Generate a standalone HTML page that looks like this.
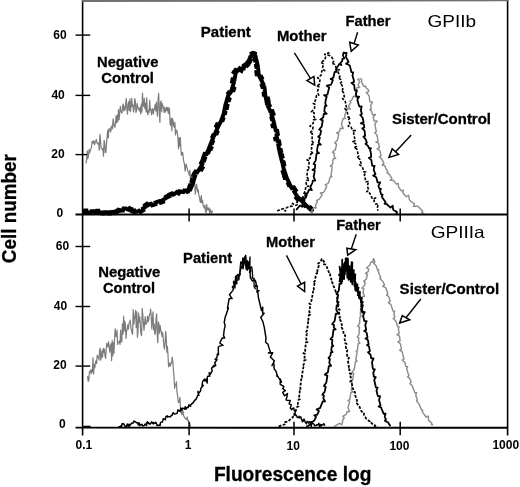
<!DOCTYPE html>
<html><head><meta charset="utf-8"><style>
html,body{margin:0;padding:0;background:#fff;width:520px;height:487px;overflow:hidden}
svg{display:block;filter:blur(0.3px)}
text{font-family:"Liberation Sans",sans-serif;fill:#000}
text.b{stroke:#000;stroke-width:0.3px}
</style></head><body>
<svg width="520" height="487" viewBox="0 0 520 487">
<rect width="520" height="487" fill="#fff"/>
<g id="curves">
<path d="M85.50,162.39 L86.10,162.82 L86.70,159.31 L87.30,150.93 L87.90,158.73 L88.50,155.26 L89.10,149.46 L89.70,152.84 L90.30,150.47 L90.90,149.19 L91.50,147.01 L92.10,141.28 L92.70,141.54 L93.30,143.20 L93.90,140.73 L94.50,144.81 L95.10,142.56 L95.70,141.39 L96.30,139.48 L96.90,142.31 L97.50,143.92 L98.10,142.99 L98.70,143.42 L99.30,150.22 L99.90,134.39 L100.50,139.30 L101.10,148.12 L101.70,148.13 L102.30,149.81 L102.90,148.69 L103.50,156.20 L104.10,140.32 L104.70,142.53 L105.30,152.66 L105.90,152.36 L106.50,143.94 L107.10,137.14 L107.70,130.46 L108.30,138.01 L108.90,128.91 L109.50,128.75 L110.10,130.21 L110.70,131.90 L111.30,126.08 L111.90,128.94 L112.50,128.52 L113.10,118.73 L113.70,122.57 L114.30,126.93 L114.90,127.24 L115.50,123.05 L116.10,115.77 L116.70,122.95 L117.30,115.10 L117.90,121.46 L118.50,109.58 L119.10,119.46 L119.70,113.71 L120.30,106.30 L120.90,110.91 L121.50,112.39 L122.10,113.04 L122.70,105.40 L123.30,104.10 L123.90,110.90 L124.50,106.54 L125.10,110.06 L125.70,103.75 L126.30,98.47 L126.90,108.92 L127.50,114.07 L128.10,104.92 L128.70,101.54 L129.30,110.44 L129.90,98.80 L130.50,111.67 L131.10,104.74 L131.70,98.43 L132.30,106.51 L132.90,104.79 L133.50,111.99 L134.10,108.87 L134.70,98.65 L135.30,100.95 L135.90,112.57 L136.50,111.15 L137.10,103.32 L137.70,106.72 L138.30,109.03 L138.90,108.90 L139.50,110.99 L140.10,107.16 L140.70,114.00 L141.30,104.21 L141.90,111.95 L142.50,93.05 L143.10,105.37 L143.70,106.52 L144.30,98.29 L144.90,108.55 L145.50,103.05 L146.10,111.90 L146.70,97.56 L147.30,111.36 L147.90,114.81 L148.50,110.34 L149.10,112.36 L149.70,100.18 L150.30,110.21 L150.90,108.79 L151.50,114.66 L152.10,110.77 L152.70,108.59 L153.30,114.23 L153.90,109.31 L154.50,108.91 L155.10,104.49 L155.70,110.95 L156.30,102.10 L156.90,111.53 L157.50,116.16 L158.10,98.65 L158.70,93.43 L159.30,111.22 L159.90,122.41 L160.50,102.30 L161.10,101.03 L161.70,111.68 L162.30,103.70 L162.90,105.76 L163.50,106.82 L164.10,112.41 L164.70,107.69 L165.30,112.14 L165.90,110.17 L166.50,107.01 L167.10,110.55 L167.70,107.63 L168.30,113.55 L168.90,107.88 L169.50,108.87 L170.10,124.09 L170.70,125.51 L171.30,118.21 L171.90,130.84 L172.50,118.65 L173.10,120.89 L173.70,125.74 L174.30,127.35 L174.90,122.31 L175.50,134.85 L176.10,130.07 L176.70,130.08 L177.30,132.91 L177.90,137.42 L178.50,148.98 L179.10,137.83 L179.70,146.05 L180.30,137.66 L180.90,149.33 L181.50,155.29 L182.10,152.33 L182.70,152.70 L183.30,158.34 L183.90,162.24 L184.50,164.05 L185.10,171.16 L185.70,165.81 L186.30,164.35 L186.90,167.74 L187.50,169.55 L188.10,171.82 L188.70,172.92 L189.30,175.24 L189.90,170.21 L190.50,179.88 L191.10,176.40 L191.70,175.70 L192.30,182.73 L192.90,186.02 L193.50,184.61 L194.10,184.58 L194.70,182.22 L195.30,194.26 L195.90,189.29 L196.50,184.43 L197.10,187.42 L197.70,191.86 L198.30,189.88 L198.90,196.20 L199.50,196.89 L200.10,201.80 L200.70,202.42 L201.30,195.54 L201.90,202.79 L202.50,200.34 L203.10,205.03 L203.70,206.67 L204.30,208.09 L204.90,205.00 L205.50,211.82 L206.10,212.70 L206.70,204.48 L207.30,209.99 L207.90,208.15 L208.50,210.04 L209.10,207.76 L209.70,213.50 L210.30,209.33 L210.90,211.27 L211.50,213.30 L212.10,211.02 L212.70,212.15" fill="none" stroke="#7c7c7c" stroke-width="1.2" stroke-linejoin="round" />
<path d="M83.00,212.50 L83.50,212.50 L84.00,212.50 L84.50,212.50 L85.00,210.50 L85.50,210.50 L86.00,210.50 L86.50,210.50 L87.00,212.50 L87.50,212.50 L88.00,212.50 L88.50,212.50 L89.00,212.50 L89.50,212.50 L90.00,212.50 L90.50,212.50 L91.00,212.50 L91.50,211.19 L92.00,211.19 L92.50,211.19 L93.00,211.19 L93.50,211.19 L94.00,211.19 L94.50,211.19 L95.00,212.50 L95.50,212.50 L96.00,212.50 L96.50,212.50 L97.00,210.68 L97.50,210.68 L98.00,210.68 L98.50,210.68 L99.00,212.50 L99.50,212.50 L100.00,212.50 L100.50,212.48 L101.00,212.46 L101.50,212.44 L102.07,213.50 L102.57,213.50 L103.07,213.50 L103.57,213.50 L104.07,213.50 L104.50,212.31 L105.00,212.29 L105.50,212.27 L105.99,212.25 L106.49,212.23 L106.99,212.21 L107.49,212.19 L108.08,213.50 L108.58,213.50 L109.08,213.50 L109.58,213.50 L110.08,213.50 L110.58,213.50 L110.99,212.04 L111.49,212.02 L111.99,212.00 L112.49,211.94 L112.98,211.88 L113.48,211.82 L113.97,211.75 L114.65,213.16 L115.15,213.10 L115.65,213.04 L116.52,212.88 L116.35,211.21 L116.74,210.89 L117.12,210.57 L117.50,210.25 L117.89,209.93 L118.27,209.61 L118.66,209.29 L119.05,208.99 L119.87,210.84 L120.36,210.75 L120.85,210.67 L121.35,210.59 L121.84,210.51 L122.17,210.45 L122.51,210.45 L123.01,210.45 L123.51,208.50 L124.01,208.50 L124.51,208.50 L125.01,208.50 L125.51,208.50 L126.01,208.51 L126.46,208.73 L126.91,208.95 L127.35,209.18 L127.80,209.40 L128.25,209.62 L129.53,208.18 L129.97,208.40 L130.41,208.62 L130.77,208.80 L131.16,208.95 L131.63,209.12 L131.44,211.04 L131.91,211.22 L132.38,211.39 L132.85,211.57 L133.31,211.74 L134.08,210.63 L134.23,210.64 L134.58,210.58 L135.26,211.83 L135.75,211.76 L136.25,211.69 L136.74,211.62 L137.24,211.55 L137.72,211.44 L138.15,211.19 L138.59,210.95 L139.03,210.71 L140.34,212.05 L140.78,211.80 L141.22,211.56 L141.65,211.32 L142.09,211.07 L142.53,210.83 L142.97,210.59 L143.40,210.35 L142.96,208.52 L143.38,208.25 L143.80,207.97 L144.21,207.69 L144.63,207.42 L145.04,207.14 L145.46,206.86 L144.90,205.12 L145.32,204.85 L145.74,204.57 L146.15,204.29 L146.57,204.02 L146.98,203.74 L148.37,204.92 L148.79,204.64 L149.23,204.43 L149.71,204.27 L150.19,204.12 L150.66,203.97 L151.14,203.81 L152.16,205.35 L152.63,205.20 L153.11,205.05 L153.58,204.89 L154.06,204.74 L154.54,204.59 L155.01,204.44 L155.49,204.28 L155.42,202.44 L155.90,202.29 L156.38,202.14 L156.85,201.98 L157.33,201.83 L157.80,201.68 L158.28,201.52 L158.75,201.37 L159.23,201.22 L159.71,201.06 L160.75,202.68 L161.23,202.53 L161.71,202.37 L162.18,202.22 L162.66,202.07 L163.15,201.91 L163.03,199.98 L163.45,199.70 L163.87,199.43 L164.29,199.15 L164.70,198.88 L165.12,198.60 L165.54,198.33 L165.96,198.05 L165.71,196.77 L166.20,196.45 L166.74,196.20 L167.19,195.99 L168.15,196.88 L168.61,196.67 L169.06,196.46 L169.52,196.25 L169.30,194.58 L169.75,194.38 L170.21,194.17 L170.66,193.96 L171.12,193.75 L171.57,193.54 L172.03,193.33 L173.15,194.58 L173.60,194.37 L174.06,194.16 L174.50,193.92 L174.89,193.61 L175.28,193.30 L175.67,192.99 L176.07,192.68 L176.46,192.37 L176.85,192.06 L178.59,193.46 L178.98,193.15 L178.94,193.11 L178.42,193.23 L178.53,193.28 L179.46,191.26 L179.95,191.36 L180.43,191.46 L180.92,191.56 L181.41,191.66 L181.90,191.76 L182.39,191.87 L182.88,191.97 L183.37,192.07 L184.18,190.65 L184.45,190.72 L184.63,190.70 L185.04,190.62 L185.53,190.52 L186.02,190.43 L186.51,190.33 L187.30,191.75 L187.79,191.66 L188.28,191.56 L188.77,191.46 L189.26,191.37 L188.33,189.99 L188.22,190.02 L188.41,189.56 L188.60,189.10 L190.42,189.31 L190.61,188.85 L190.80,188.39 L191.00,187.92 L191.19,187.46 L189.51,186.23 L189.70,185.77 L189.90,185.31 L191.95,185.61 L192.14,185.15 L192.33,184.69 L192.52,184.23 L192.71,183.76 L192.86,183.29 L193.00,182.81 L193.15,182.33 L191.59,181.33 L191.74,180.85 L191.89,180.37 L192.03,179.90 L192.18,179.42 L194.03,179.46 L194.18,178.98 L194.32,178.51 L194.47,178.03 L194.62,177.55 L194.76,177.07 L194.91,176.59 L195.06,176.12 L193.36,175.07 L193.57,174.42 L193.93,173.73 L194.26,173.24 L194.54,172.82 L194.81,172.41 L195.09,171.99 L195.37,171.58 L197.25,172.23 L197.53,171.81 L197.80,171.40 L198.08,170.98 L198.36,170.56 L198.63,170.15 L198.91,169.73 L199.19,169.32 L199.46,168.90 L201.57,169.59 L201.83,169.16 L202.09,168.73 L202.35,168.31 L202.61,167.88 L201.02,166.33 L201.28,165.90 L201.54,165.48 L201.79,165.05 L202.05,164.62 L202.31,164.19 L201.11,162.88 L201.37,162.45 L201.63,162.02 L201.83,161.70 L201.96,161.38 L202.13,160.94 L202.31,160.48 L204.08,160.62 L204.26,160.16 L204.44,159.69 L204.62,159.22 L204.80,158.76 L204.98,158.29 L203.33,157.12 L203.51,156.65 L203.69,156.19 L203.87,155.72 L204.05,155.25 L204.23,154.79 L204.40,154.32 L204.58,153.85 L206.60,154.09 L206.78,153.62 L206.96,153.16 L207.13,152.69 L208.35,152.63 L208.53,152.17 L208.71,151.71 L208.90,151.24 L208.05,150.37 L208.24,149.90 L208.43,149.44 L208.61,148.97 L208.80,148.51 L211.01,148.85 L211.19,148.39 L211.38,147.93 L209.54,146.65 L209.73,146.19 L209.91,145.72 L210.10,145.26 L210.28,144.79 L210.47,144.33 L210.65,143.87 L210.84,143.40 L212.10,143.37 L212.28,142.90 L212.46,142.45 L212.65,142.01 L212.85,141.55 L211.99,140.63 L212.19,140.17 L212.39,139.72 L212.59,139.26 L212.79,138.80 L212.99,138.34 L213.19,137.88 L212.37,136.98 L212.57,136.52 L212.77,136.06 L212.96,135.60 L213.16,135.15 L214.38,135.13 L214.58,134.67 L214.78,134.21 L214.97,133.75 L215.17,133.29 L216.83,133.46 L217.02,133.00 L217.22,132.55 L217.42,132.09 L216.17,131.00 L216.37,130.54 L216.57,130.08 L216.78,129.63 L217.00,129.18 L217.22,128.73 L217.44,128.28 L217.66,127.83 L217.88,127.38 L216.21,126.01 L216.43,125.56 L216.65,125.11 L216.87,124.66 L217.09,124.22 L219.20,124.69 L219.42,124.24 L219.64,123.79 L219.86,123.34 L220.08,122.89 L220.29,122.44 L220.51,121.99 L220.73,121.54 L220.95,121.10 L221.14,120.63 L221.32,120.16 L222.74,120.17 L222.92,119.70 L223.09,119.24 L223.27,118.77 L222.21,117.83 L222.38,117.36 L222.56,116.89 L222.74,116.43 L222.92,115.96 L223.10,115.49 L223.27,115.02 L223.45,114.56 L223.63,114.09 L223.76,113.61 L225.13,113.36 L225.23,112.87 L225.32,112.38 L224.14,111.64 L224.23,111.15 L224.33,110.66 L224.42,110.17 L224.52,109.68 L224.61,109.19 L224.71,108.70 L224.80,108.21 L226.95,108.11 L227.05,107.62 L227.14,107.13 L227.24,106.64 L227.33,106.15 L227.43,105.66 L225.47,104.77 L225.59,104.29 L225.74,103.81 L225.89,103.33 L226.03,102.85 L226.18,102.38 L226.32,101.90 L226.47,101.42 L226.61,100.94 L226.76,100.46 L226.90,99.98 L229.13,100.14 L229.28,99.66 L229.42,99.18 L227.49,98.07 L227.63,97.59 L227.78,97.11 L227.92,96.64 L228.07,96.16 L228.22,95.68 L228.43,95.23 L228.73,94.83 L229.03,94.44 L228.23,93.20 L228.53,92.81 L228.83,92.41 L230.24,92.84 L230.54,92.44 L230.84,92.04 L231.12,91.63 L231.27,91.16 L231.41,90.68 L231.56,90.20 L233.60,90.30 L233.75,89.82 L233.89,89.34 L234.04,88.86 L234.18,88.39 L232.43,87.33 L232.58,86.85 L232.72,86.37 L232.87,85.89 L233.01,85.42 L233.16,84.94 L233.30,84.46 L233.45,83.98 L233.59,83.50 L233.74,83.02 L233.89,82.55 L232.05,81.67 L232.15,81.19 L232.24,80.70 L232.34,80.21 L232.43,79.72 L232.53,79.23 L234.56,79.11 L234.65,78.62 L234.75,78.13 L234.84,77.64 L234.94,77.15 L235.03,76.66 L235.13,76.17 L235.22,75.67 L235.32,75.18 L235.41,74.69 L235.51,74.20 L235.60,73.71 L233.72,72.35 L234.27,71.51 L234.59,71.10 L234.90,70.70 L235.21,70.31 L235.51,69.91 L237.53,70.85 L237.84,70.45 L238.14,70.06 L238.45,69.66 L239.67,68.33 L240.22,68.68 L240.63,68.96 L241.05,69.24 L241.46,69.51 L241.56,69.62 L240.09,69.98 L241.42,70.76 L241.58,70.29 L241.75,69.82 L241.91,69.35 L242.07,68.87 L242.24,68.40 L243.74,68.39 L243.90,67.92 L244.07,67.45 L244.23,66.97 L244.26,66.79 L244.29,66.80 L243.81,65.42 L244.22,65.14 L244.63,64.86 L245.05,64.58 L245.46,64.30 L247.24,65.61 L247.76,65.06 L248.11,64.68 L246.88,62.91 L247.22,62.53 L247.55,62.16 L247.89,61.79 L248.22,61.42 L249.90,61.94 L250.24,61.26 L250.45,60.77 L250.64,60.31 L249.35,59.22 L249.55,58.76 L249.74,58.30 L249.94,57.84 L250.13,57.37 L250.33,56.91 L250.54,56.48 L250.98,56.23 L251.42,55.99 L251.86,55.75 L252.29,55.50 L251.68,53.37 L252.98,52.86 L254.42,53.17 L254.94,53.40 L254.54,55.58 L255.00,55.78 L255.46,55.98 L255.60,56.44 L255.71,56.93 L255.82,57.42 L254.48,58.24 L254.59,58.73 L254.70,59.21 L254.81,59.70 L254.92,60.19 L255.03,60.67 L256.60,60.83 L256.72,61.32 L256.83,61.80 L256.94,62.29 L257.05,62.78 L257.16,63.27 L257.27,63.75 L257.38,64.24 L257.50,64.73 L256.03,65.58 L256.14,66.06 L256.25,66.52 L256.32,66.91 L257.97,67.18 L258.02,67.68 L258.08,68.17 L258.13,68.67 L258.18,69.17 L258.23,69.67 L258.28,70.16 L258.34,70.66 L258.39,71.16 L256.37,71.87 L256.42,72.37 L256.47,72.87 L256.53,73.36 L256.58,73.86 L256.63,74.36 L258.75,74.64 L258.82,75.13 L259.04,75.58 L259.27,76.02 L259.50,76.47 L259.72,76.91 L261.31,76.67 L261.54,77.11 L261.77,77.56 L261.99,78.00 L260.86,79.14 L261.08,79.59 L261.31,80.03 L261.54,80.48 L261.76,80.93 L261.98,81.38 L262.19,81.83 L262.41,82.28 L262.63,82.73 L262.84,83.18 L263.06,83.63 L263.28,84.08 L261.77,85.36 L261.99,85.81 L262.21,86.26 L262.39,86.63 L262.45,86.78 L262.47,87.05 L264.42,87.34 L264.48,87.84 L264.53,88.33 L264.59,88.83 L264.64,89.33 L264.69,89.83 L264.75,90.32 L264.80,90.82 L264.86,91.32 L264.91,91.81 L264.96,92.31 L265.02,92.81 L263.70,93.46 L263.75,93.95 L263.80,94.45 L263.86,94.95 L265.29,95.29 L265.38,95.79 L265.47,96.28 L265.57,96.77 L265.66,97.26 L265.76,97.75 L265.86,98.24 L268.06,98.32 L268.15,98.81 L268.25,99.30 L268.35,99.79 L268.44,100.28 L268.54,100.77 L266.53,101.67 L266.62,102.16 L266.72,102.66 L266.82,103.15 L266.91,103.64 L268.82,103.76 L268.85,104.01 L268.98,104.24 L269.21,104.69 L269.43,105.13 L269.65,105.58 L268.23,106.85 L268.45,107.30 L268.67,107.75 L268.90,108.19 L269.12,108.64 L269.34,109.09 L269.57,109.54 L269.79,109.98 L269.99,110.44 L270.16,110.91 L270.33,111.38 L272.45,111.14 L272.62,111.61 L272.79,112.08 L272.96,112.55 L273.13,113.02 L273.30,113.49 L273.48,113.96 L271.70,115.14 L271.87,115.61 L272.04,116.08 L272.22,116.55 L272.39,117.02 L271.44,117.85 L271.56,118.27 L271.68,118.74 L271.80,119.23 L273.06,119.42 L273.18,119.91 L273.30,120.39 L273.43,120.88 L273.55,121.36 L273.67,121.85 L273.79,122.33 L273.92,122.82 L274.04,123.30 L274.16,123.79 L274.28,124.27 L272.50,125.24 L272.62,125.72 L272.74,126.21 L274.77,126.21 L274.89,126.70 L275.02,127.18 L275.14,127.67 L275.26,128.15 L275.38,128.63 L275.48,129.13 L275.56,129.62 L275.65,130.11 L275.74,130.60 L277.20,130.85 L277.29,131.34 L277.38,131.83 L277.47,132.32 L277.56,132.82 L277.65,133.31 L277.73,133.80 L277.82,134.29 L276.54,135.03 L276.62,135.52 L276.71,136.02 L276.80,136.51 L276.89,137.00 L276.98,137.49 L275.18,138.32 L275.26,138.82 L275.35,139.31 L277.33,139.46 L277.42,139.95 L277.51,140.45 L277.60,140.94 L279.07,141.18 L279.16,141.67 L279.25,142.16 L279.34,142.66 L279.43,143.15 L279.51,143.64 L279.60,144.13 L278.30,144.87 L278.39,145.37 L278.48,145.86 L278.57,146.35 L278.65,146.84 L278.74,147.34 L278.83,147.83 L278.92,148.32 L279.01,148.81 L279.10,149.30 L279.18,149.80 L280.86,150.00 L280.95,150.47 L281.04,150.91 L281.15,151.37 L279.70,152.24 L279.82,152.73 L279.94,153.21 L280.06,153.70 L280.18,154.18 L280.30,154.67 L280.42,155.15 L282.11,155.26 L282.23,155.74 L282.35,156.23 L282.47,156.71 L281.01,157.58 L281.13,158.07 L281.25,158.55 L281.37,159.04 L281.48,159.53 L281.60,160.01 L281.72,160.50 L281.84,160.98 L281.96,161.47 L282.08,161.95 L283.57,162.10 L283.69,162.59 L283.80,163.08 L283.92,163.56 L284.04,164.05 L284.16,164.53 L282.91,165.35 L283.03,165.84 L283.15,166.33 L283.26,166.81 L283.38,167.30 L283.50,167.78 L283.62,168.27 L283.74,168.75 L283.88,169.23 L284.04,169.71 L284.20,170.18 L284.36,170.66 L282.78,171.72 L282.93,172.19 L283.09,172.66 L283.25,173.14 L283.41,173.61 L285.32,173.50 L285.47,173.97 L285.63,174.45 L285.79,174.92 L285.95,175.39 L286.11,175.87 L284.30,177.01 L284.46,177.48 L284.62,177.95 L286.75,177.76 L286.91,178.24 L287.10,178.70 L287.32,179.15 L287.54,179.60 L287.76,180.05 L287.98,180.50 L288.20,180.95 L288.42,181.39 L288.64,181.84 L288.86,182.29 L289.07,182.74 L288.15,183.75 L288.37,184.20 L288.59,184.65 L288.81,185.10 L290.17,184.99 L290.39,185.44 L290.61,185.89 L290.83,186.34 L291.05,186.78 L291.27,187.23 L291.49,187.68 L291.77,188.10 L293.84,187.32 L294.12,187.73 L294.40,188.15 L294.67,188.57 L294.95,188.98 L295.23,189.40 L295.51,189.81 L295.78,190.23 L294.26,191.84 L294.54,192.26 L294.82,192.68 L295.09,193.09 L295.37,193.51 L295.65,193.92 L295.93,194.34 L296.20,194.76 L296.48,195.17 L296.76,195.59 L297.04,196.00 L297.31,196.42 L296.19,197.90 L296.63,198.41 L297.04,198.82 L297.39,199.17 L297.75,199.52 L299.34,198.62 L299.70,198.97 L300.05,199.32 L300.41,199.67 L300.76,200.02 L302.02,199.46 L302.38,199.81 L302.73,200.16 L303.09,200.51 L302.54,201.78 L302.90,202.13 L303.25,202.48 L303.61,202.83 L303.97,203.18 L304.32,203.54 L304.68,203.89 L304.14,205.14 L304.51,205.50 L304.87,205.85 L306.11,205.28 L306.47,205.63 L306.83,205.97 L307.20,206.32 L307.56,206.66 L307.92,207.01 L308.28,207.35 L308.64,207.70 L309.00,208.05 L310.31,207.40 L310.67,207.75 L311.04,208.11 L311.40,208.47 L311.76,208.82 L311.14,210.14 L311.50,210.50 L311.85,210.85 L312.21,211.21 L312.56,211.56 L312.91,211.91" fill="none" stroke="#000" stroke-width="4.0" stroke-linejoin="miter" stroke-miterlimit="1.6"/>
<path d="M310.13,211.85 L310.40,211.55 L312.52,212.63 L312.26,211.60 L312.00,210.57 L311.99,209.75 L312.38,209.30 L312.78,208.85 L313.18,208.40 L313.56,207.95 L313.92,207.47 L316.08,208.15 L315.92,207.31 L315.75,206.49 L315.57,205.67 L315.54,204.94 L315.86,204.43 L316.18,203.92 L316.50,203.42 L316.81,202.91 L317.13,202.40 L317.46,201.89 L316.47,200.52 L317.10,200.20 L317.73,199.89 L318.35,199.59 L318.97,199.29 L319.48,198.92 L319.82,198.42 L320.16,197.93 L320.50,197.43 L320.84,196.94 L321.18,196.44 L321.52,195.95 L321.86,195.46 L322.20,194.96 L320.34,193.00 L321.15,192.91 L321.96,192.77 L322.77,192.57 L323.60,192.32 L323.99,191.85 L324.27,191.31 L324.54,190.78 L324.81,190.25 L325.08,189.71 L325.35,189.18 L325.63,188.64 L325.90,188.11 L326.17,187.57 L326.44,187.04 L326.72,186.50 L325.24,185.08 L325.81,184.69 L326.38,184.31 L326.95,183.93 L327.52,183.56 L328.07,183.18 L328.55,182.73 L328.73,182.16 L328.90,181.59 L329.06,181.01 L329.22,180.43 L329.38,179.85 L329.54,179.27 L329.71,178.70 L329.87,178.12 L330.03,177.54 L330.19,176.96 L331.84,176.80 L331.56,176.10 L331.28,175.40 L331.00,174.70 L331.00,174.07 L331.16,173.50 L331.33,172.92 L331.46,172.34 L331.57,171.75 L331.64,171.15 L331.71,170.56 L331.79,169.96 L331.86,169.36 L331.93,168.77 L332.00,168.17 L332.08,167.58 L332.15,166.98 L330.31,166.15 L330.98,165.63 L331.64,165.11 L332.31,164.58 L332.51,164.00 L332.58,163.41 L332.66,162.81 L332.73,162.22 L332.80,161.62 L332.87,161.03 L332.95,160.43 L333.05,159.84 L333.17,159.25 L333.30,158.67 L335.78,158.62 L335.26,157.88 L334.73,157.15 L334.21,156.41 L333.97,155.74 L334.11,155.16 L334.24,154.57 L334.37,153.99 L334.51,153.40 L332.44,152.32 L332.99,151.83 L333.55,151.34 L334.10,150.85 L334.65,150.36 L335.20,149.87 L335.44,149.31 L335.58,148.73 L335.71,148.14 L335.84,147.56 L335.98,146.97 L336.11,146.39 L336.24,145.80 L336.36,145.21 L336.49,144.63 L336.61,144.04 L334.80,143.05 L335.24,142.52 L335.67,142.00 L336.11,141.48 L336.55,140.96 L336.99,140.44 L337.42,139.92 L337.59,139.34 L337.72,138.75 L337.84,138.16 L337.96,137.58 L338.08,136.99 L338.21,136.40 L338.33,135.82 L338.46,135.23 L338.60,134.65 L338.76,134.07 L336.53,132.83 L337.45,132.46 L338.37,132.09 L339.30,131.73 L339.56,131.18 L339.72,130.60 L339.88,130.02 L340.04,129.44 L340.20,128.87 L340.36,128.29 L343.22,128.46 L342.93,127.75 L342.63,127.05 L342.34,126.34 L342.04,125.64 L341.75,124.93 L341.49,124.24 L341.65,123.66 L341.81,123.08 L341.97,122.51 L342.13,121.93 L342.29,121.35 L342.45,120.77 L342.61,120.19 L342.77,119.62 L342.93,119.04 L343.09,118.46 L345.43,118.53 L345.18,117.94 L344.98,117.35 L344.84,116.70 L344.76,116.00 L344.69,115.28 L344.79,114.65 L345.07,114.11 L345.32,113.57 L345.56,113.02 L345.78,112.46 L346.01,111.91 L346.23,111.35 L346.46,110.80 L346.69,110.24 L346.91,109.68 L347.14,109.13 L347.36,108.57 L350.34,109.15 L349.56,108.24 L348.81,107.30 L348.37,106.40 L348.68,105.89 L348.99,105.38 L349.31,104.86 L349.62,104.35 L349.93,103.84 L350.24,103.33 L350.56,102.82 L350.87,102.30 L349.80,101.07 L350.42,100.79 L351.03,100.44 L351.65,100.05 L352.10,99.58 L352.31,99.02 L352.53,98.46 L352.75,97.90 L352.97,97.34 L353.19,96.78 L353.43,96.24 L355.60,96.76 L355.55,96.14 L355.56,95.46 L355.59,94.77 L355.62,94.05 L355.62,93.32 L355.54,92.62 L355.69,92.04 L355.86,91.46 L356.03,90.89 L356.21,90.31 L356.38,89.74 L356.55,89.16 L356.72,88.59 L356.90,88.01 L357.07,87.44 L359.73,87.65 L359.26,86.96 L358.84,86.25 L358.47,85.47 L358.17,84.66 L358.44,84.12 L358.71,83.59 L358.98,83.05 L359.24,82.51 L359.51,81.98 L359.78,81.44 L357.70,79.59 L358.87,78.88 L361.20,78.90 L361.78,80.08 L361.65,80.97 L361.46,81.74 L361.70,82.29 L361.98,82.82 L362.26,83.36 L362.54,83.89 L362.82,84.42 L363.10,84.95 L363.38,85.48 L363.66,86.01 L363.94,86.54 L365.95,86.10 L365.84,86.57 L365.75,86.95 L365.86,87.39 L366.22,87.89 L366.64,88.42 L367.07,88.95 L367.61,89.22 L368.10,89.50 L368.43,89.90 L368.59,90.43 L368.65,91.02 L368.72,91.62 L366.23,92.49 L366.72,93.04 L367.20,93.60 L367.69,94.15 L368.17,94.70 L368.66,95.25 L369.14,95.80 L369.24,96.39 L369.30,96.99 L369.37,97.59 L369.43,98.18 L369.49,98.78 L369.56,99.37 L369.62,99.97 L369.69,100.57 L369.76,101.16 L369.84,101.76 L372.53,101.86 L372.19,102.51 L371.85,103.19 L371.52,103.87 L371.18,104.55 L370.84,105.23 L370.66,105.88 L370.77,106.47 L370.89,107.05 L371.01,107.64 L371.13,108.23 L371.24,108.82 L369.95,109.69 L370.51,110.19 L371.08,110.69 L371.64,111.19 L371.83,111.76 L371.96,112.35 L372.09,112.93 L372.23,113.52 L372.38,114.10 L372.52,114.68 L375.53,114.54 L374.77,115.35 L374.01,116.16 L373.26,116.97 L373.26,117.59 L373.41,118.17 L373.55,118.75 L373.70,119.33 L373.85,119.91 L373.99,120.50 L374.14,121.08 L377.09,120.96 L376.57,121.74 L376.04,122.51 L375.49,123.25 L374.93,123.98 L374.92,124.59 L375.04,125.18 L375.15,125.77 L375.27,126.36 L375.39,126.95 L375.51,127.53 L375.62,128.12 L375.74,128.71 L375.86,129.30 L375.98,129.89 L376.09,130.48 L376.21,131.06 L376.33,131.65 L374.70,132.58 L375.18,133.09 L375.67,133.61 L376.15,134.13 L376.64,134.65 L377.00,135.19 L377.12,135.78 L377.23,136.37 L377.34,136.96 L377.45,137.55 L377.57,138.13 L377.68,138.72 L377.79,139.31 L377.91,139.90 L378.02,140.49 L378.13,141.08 L375.89,142.12 L377.04,142.51 L378.18,142.91 L378.59,143.44 L378.70,144.03 L378.82,144.62 L378.93,145.20 L379.05,145.79 L379.16,146.38 L379.28,146.97 L379.39,147.56 L377.09,148.62 L377.77,149.10 L378.44,149.58 L379.12,150.06 L379.80,150.54 L380.08,151.09 L380.20,151.68 L380.32,152.27 L380.43,152.86 L380.55,153.45 L380.66,154.04 L380.78,154.63 L380.89,155.21 L381.01,155.80 L379.27,156.78 L379.83,157.35 L380.43,157.88 L381.05,158.34 L381.67,158.74 L382.08,159.22 L382.31,159.78 L382.54,160.33 L382.77,160.89 L382.99,161.44 L383.22,162.00 L383.45,162.55 L383.67,163.11 L383.90,163.66 L382.10,165.05 L383.10,165.29 L384.10,165.53 L384.81,165.89 L385.04,166.44 L385.26,167.00 L385.49,167.55 L385.72,168.11 L385.97,168.65 L386.24,169.18 L386.55,169.69 L386.87,170.20 L387.18,170.71 L387.50,171.22 L387.82,171.74 L386.99,172.95 L387.66,173.24 L388.33,173.53 L389.00,173.82 L389.39,174.29 L389.71,174.80 L390.03,175.31 L390.34,175.82 L390.66,176.33 L390.97,176.84 L391.29,177.35 L391.60,177.86 L391.93,178.36 L390.15,180.39 L391.24,180.38 L392.31,180.33 L393.36,180.29 L393.72,180.77 L394.08,181.24 L394.45,181.72 L394.81,182.20 L395.17,182.68 L395.54,183.15 L395.90,183.63 L396.26,184.11 L398.25,183.35 L398.32,184.06 L398.38,184.76 L398.45,185.47 L398.50,186.18 L398.56,186.89 L398.79,187.46 L399.15,187.95 L399.51,188.43 L399.86,188.91 L400.22,189.39 L400.58,189.87 L400.94,190.35 L401.30,190.84 L403.33,190.07 L403.18,190.93 L403.03,191.79 L402.87,192.65 L403.09,193.24 L403.46,193.71 L403.86,194.16 L404.27,194.59 L404.69,195.02 L405.11,195.45 L405.53,195.88 L405.95,196.31 L406.36,196.74 L408.64,195.36 L408.76,196.08 L408.88,196.81 L408.99,197.53 L409.11,198.25 L409.23,198.97 L409.35,199.70 L409.71,200.18 L410.13,200.61 L410.55,201.04 L411.00,201.44 L411.47,201.80 L411.97,202.13 L412.47,202.46 L412.98,202.78 L413.48,203.11 L413.98,203.44 L414.48,203.77 L413.44,206.47 L414.21,206.39 L414.98,206.31 L415.71,206.20 L416.42,206.12 L417.16,206.12 L417.86,206.24 L418.28,206.66 L418.71,207.08 L419.14,207.50 L419.57,207.92 L420.00,208.34 L420.42,208.76 L420.85,209.18 L421.28,209.61 L421.71,210.03 L422.14,210.45 L422.57,210.86 L421.68,212.75 L422.39,212.89 L423.08,213.01 L423.77,213.14 L424.31,213.13" fill="none" stroke="#8a8a8a" stroke-width="1.4" stroke-linejoin="round" />
<path d="M277.19,210.93 L277.56,210.79 L278.12,210.58 L278.69,210.37 L279.25,210.16 L279.81,209.95 L280.37,209.74 L280.93,209.53 L281.49,209.31 L282.06,209.10 L282.62,208.89 L283.18,208.68 L283.74,208.47 L285.35,211.13 L285.61,210.27 L285.91,209.41 L286.26,208.55 L286.63,207.69 L287.17,207.38 L287.75,207.22 L288.32,207.05 L288.90,206.89 L289.48,206.72 L290.05,206.56 L290.63,206.39 L291.21,206.23 L291.79,206.07 L292.37,205.93 L292.45,203.35 L293.20,203.97 L293.94,204.59 L294.67,205.21 L295.31,205.34 L295.90,205.22 L296.48,205.09 L297.02,204.87 L297.52,204.57 L297.98,204.18 L296.82,201.85 L297.55,201.80 L298.25,201.78 L298.88,201.77 L299.51,201.67 L300.17,201.46 L300.81,201.15 L301.12,200.64 L301.40,200.11 L301.66,199.57 L301.89,199.02 L302.12,198.46 L302.34,197.91 L302.56,197.35 L302.78,196.79 L305.76,197.34 L305.33,196.51 L304.89,195.68 L304.45,194.86 L304.01,194.05 L304.09,193.44 L304.31,192.88 L304.52,192.32 L304.73,191.76 L304.95,191.19 L305.16,190.63 L305.33,190.06 L305.45,189.48 L305.52,188.88 L305.59,188.29 L305.65,187.69 L305.72,187.10 L305.79,186.50 L308.68,186.21 L307.92,185.53 L307.16,184.84 L306.40,184.15 L306.11,183.52 L306.18,182.92 L306.24,182.32 L306.31,181.73 L306.38,181.13 L306.44,180.53 L309.34,180.23 L308.83,179.57 L308.31,178.91 L307.80,178.26 L307.29,177.60 L306.80,176.95 L306.86,176.36 L306.92,175.76 L306.98,175.16 L307.04,174.57 L307.10,173.97 L307.16,173.37 L307.22,172.77 L307.28,172.18 L307.34,171.58 L307.40,170.98 L307.47,170.39 L307.56,169.80 L309.49,169.58 L309.26,168.94 L309.03,168.28 L308.80,167.61 L308.58,166.95 L308.35,166.28 L308.45,165.69 L308.58,165.10 L308.71,164.52 L308.83,163.93 L308.96,163.35 L309.09,162.76 L309.22,162.18 L309.35,161.59 L309.48,161.00 L306.92,159.85 L307.75,159.44 L308.57,159.00 L309.39,158.55 L310.05,158.06 L310.16,157.47 L310.26,156.88 L310.37,156.29 L310.47,155.70 L310.58,155.11 L310.69,154.52 L310.79,153.92 L313.22,153.75 L312.58,153.03 L311.95,152.30 L311.31,151.58 L311.33,150.97 L311.42,150.38 L311.50,149.79 L311.54,149.19 L311.58,148.59 L311.61,147.99 L311.64,147.39 L311.67,146.79 L311.70,146.19 L311.73,145.59 L311.77,144.99 L311.80,144.40 L313.96,143.91 L313.56,143.29 L313.15,142.67 L312.75,142.04 L312.34,141.42 L311.99,140.80 L312.02,140.20 L312.05,139.60 L312.09,139.00 L312.12,138.40 L312.15,137.81 L312.18,137.21 L312.21,136.61 L312.25,136.01 L312.28,135.41 L312.32,134.81 L312.36,134.21 L312.41,133.61 L309.85,132.81 L310.52,132.26 L311.20,131.71 L311.87,131.16 L312.54,130.61 L312.70,130.02 L312.75,129.43 L312.79,128.83 L312.84,128.23 L312.89,127.63 L312.94,127.03 L309.99,126.20 L310.60,125.64 L311.20,125.09 L311.81,124.54 L312.41,123.98 L313.02,123.43 L313.27,122.85 L313.32,122.25 L313.37,121.65 L313.42,121.05 L313.46,120.46 L313.51,119.86 L315.85,119.45 L315.37,118.81 L314.90,118.17 L314.43,117.53 L313.96,116.88 L313.81,116.27 L313.86,115.67 L313.91,115.07 L313.96,114.48 L314.01,113.88 L314.06,113.28 L314.11,112.68 L311.35,111.85 L311.89,111.29 L312.43,110.74 L312.97,110.18 L313.51,109.62 L314.05,109.06 L314.46,108.50 L314.52,107.90 L314.59,107.30 L314.66,106.71 L314.74,106.11 L314.81,105.52 L314.88,104.92 L314.96,104.33 L313.30,103.52 L313.69,102.96 L314.08,102.40 L314.47,101.85 L314.86,101.29 L315.25,100.73 L315.49,100.16 L315.60,99.57 L315.73,98.99 L315.87,98.40 L316.01,97.82 L316.14,97.23 L316.28,96.65 L316.41,96.07 L316.55,95.48 L318.79,95.38 L318.57,94.72 L318.34,94.06 L318.12,93.41 L317.92,92.74 L317.72,92.07 L317.57,91.41 L317.73,90.83 L317.89,90.25 L318.05,89.67 L318.21,89.10 L318.37,88.52 L318.53,87.94 L318.69,87.36 L318.85,86.78 L316.54,85.63 L317.48,85.31 L318.40,84.90 L319.30,84.43 L319.38,83.84 L319.46,83.24 L319.55,82.65 L319.63,82.05 L319.71,81.46 L319.81,80.87 L319.92,80.28 L320.05,79.69 L320.18,79.11 L317.58,77.90 L318.20,77.43 L318.82,76.95 L319.43,76.48 L320.05,76.00 L320.67,75.53 L321.10,75.01 L321.22,74.42 L321.32,73.83 L321.41,73.24 L321.51,72.64 L321.60,72.05 L321.69,71.46 L321.79,70.87 L324.84,70.78 L324.13,70.13 L323.46,69.44 L322.83,68.68 L322.45,67.95 L322.62,67.37 L322.79,66.80 L322.96,66.22 L323.13,65.65 L323.30,65.07 L323.48,64.50 L323.66,63.93 L320.75,62.38 L321.44,61.97 L322.12,61.56 L322.81,61.14 L323.49,60.74 L324.16,60.33 L324.83,59.89 L325.04,59.33 L325.18,58.75 L325.32,58.16 L325.46,57.58 L325.61,57.00 L325.79,56.43 L326.03,55.89 L324.62,54.30 L325.87,54.36 L327.00,54.38 L327.33,53.88 L327.66,53.38 L327.99,52.89 L328.32,52.74 L328.67,52.91 L329.02,53.40 L327.92,54.92 L328.60,55.18 L329.27,55.44 L329.94,55.69 L330.61,55.95 L331.11,56.33 L331.46,56.82 L331.81,57.31 L332.13,57.81 L332.41,58.33 L332.65,58.88 L332.87,59.44 L333.09,60.00 L333.31,60.56 L333.52,61.12 L333.74,61.68 L331.66,63.14 L332.46,63.47 L333.25,63.80 L334.04,64.14 L334.84,64.47 L335.06,65.03 L335.28,65.59 L335.50,66.14 L335.73,66.70 L335.96,67.25 L336.20,67.80 L336.44,68.35 L336.67,68.90 L336.91,69.46 L337.15,70.01 L339.36,69.71 L339.02,70.51 L338.68,71.31 L338.34,72.11 L338.33,72.76 L338.57,73.31 L338.81,73.86 L339.05,74.41 L339.28,74.97 L339.52,75.52 L339.76,76.07 L340.00,76.62 L338.15,78.03 L338.82,78.30 L339.46,78.62 L340.09,79.03 L340.71,79.50 L341.01,80.05 L341.13,80.64 L341.25,81.23 L341.36,81.82 L341.48,82.41 L339.87,83.34 L340.51,83.82 L341.15,84.31 L341.78,84.79 L342.07,85.35 L342.19,85.94 L342.30,86.52 L342.41,87.11 L342.53,87.70 L342.64,88.29 L342.76,88.88 L342.87,89.47 L341.32,90.38 L341.85,90.89 L342.38,91.40 L342.90,91.91 L343.43,92.42 L343.55,93.01 L343.66,93.59 L343.78,94.18 L343.90,94.77 L344.02,95.36 L344.14,95.95 L344.26,96.54 L344.38,97.12 L344.50,97.71 L342.49,98.73 L343.19,99.20 L343.89,99.67 L344.59,100.14 L345.10,100.65 L345.22,101.24 L345.34,101.83 L345.46,102.41 L345.58,103.00 L345.69,103.59 L345.81,104.18 L345.92,104.77 L346.04,105.36 L346.15,105.95 L346.27,106.53 L346.38,107.12 L346.50,107.71 L344.99,108.62 L345.47,109.14 L345.95,109.65 L346.44,110.17 L346.92,110.69 L347.18,111.25 L347.28,111.84 L347.38,112.43 L347.48,113.02 L347.58,113.61 L347.68,114.20 L347.79,114.80 L347.89,115.39 L347.99,115.98 L348.09,116.57 L348.19,117.16 L350.62,117.35 L349.96,118.08 L349.29,118.80 L348.63,119.52 L348.70,120.12 L348.83,120.70 L349.00,121.28 L349.20,121.84 L349.40,122.41 L349.59,122.97 L349.79,123.54 L349.99,124.11 L350.19,124.67 L348.08,126.05 L348.96,126.38 L349.85,126.72 L350.75,127.04 L351.25,127.47 L351.53,128.01 L351.81,128.54 L352.09,129.07 L352.37,129.60 L352.65,130.13 L352.89,130.67 L355.24,130.60 L354.78,131.45 L354.29,132.19 L353.79,132.92 L353.62,133.57 L353.75,134.16 L353.88,134.74 L354.02,135.33 L354.15,135.92 L354.28,136.50 L354.41,137.09 L354.54,137.67 L354.67,138.26 L354.80,138.84 L354.94,139.43 L355.07,140.01 L355.20,140.60 L352.80,141.74 L353.44,142.20 L354.08,142.67 L354.72,143.15 L355.35,143.63 L355.95,144.12 L356.07,144.71 L356.19,145.29 L356.31,145.88 L356.44,146.47 L354.07,147.58 L354.87,148.02 L355.67,148.47 L356.47,148.91 L357.05,149.41 L357.17,149.99 L357.29,150.58 L357.42,151.17 L357.54,151.76 L357.66,152.34 L357.78,152.93 L357.91,153.52 L358.03,154.11 L358.15,154.69 L358.30,155.27 L358.46,155.85 L358.66,156.42 L356.89,157.67 L357.71,158.02 L358.52,158.37 L359.34,158.72 L359.65,159.25 L359.85,159.81 L360.05,160.38 L360.25,160.95 L360.44,161.51 L360.64,162.08 L360.84,162.64 L361.04,163.21 L359.13,164.52 L359.78,164.92 L360.43,165.33 L361.09,165.74 L361.74,166.14 L362.23,166.61 L362.43,167.17 L362.63,167.74 L362.82,168.31 L363.00,168.88 L363.15,169.46 L363.28,170.05 L363.41,170.63 L363.54,171.22 L363.67,171.80 L365.79,171.95 L365.44,172.64 L365.09,173.33 L364.74,174.02 L364.39,174.72 L364.45,175.32 L364.58,175.90 L364.71,176.49 L364.84,177.07 L364.97,177.66 L365.10,178.25 L365.23,178.83 L365.36,179.42 L365.49,180.00 L365.62,180.59 L365.75,181.17 L365.88,181.76 L368.85,181.52 L368.55,182.13 L368.28,182.81 L368.04,183.54 L367.79,184.26 L367.54,184.99 L367.29,185.71 L367.42,186.30 L367.62,186.87 L367.82,187.43 L368.03,188.00 L368.23,188.56 L368.43,189.13 L368.63,189.69 L368.83,190.26 L366.69,191.66 L367.44,192.03 L368.19,192.40 L368.95,192.76 L369.70,193.13 L370.04,193.65 L370.24,194.22 L370.44,194.78 L370.65,195.34 L370.89,195.89 L371.17,196.42 L371.47,196.93 L371.78,197.45 L372.09,197.97 L372.39,198.48 L372.70,199.00 L375.67,197.93 L374.98,199.04 L374.29,200.15 L373.92,201.06 L374.23,201.58 L374.54,202.09 L374.84,202.61 L375.15,203.13 L375.46,203.64 L375.76,204.16 L377.81,203.70 L377.86,204.49 L377.84,205.30 L377.74,206.04 L377.59,206.72 L377.43,207.38 L377.28,208.04 L377.37,208.64 L377.52,209.22 L377.68,209.80 L377.83,210.38 L377.94,210.77" fill="none" stroke="#000" stroke-width="1.6" stroke-linejoin="round" stroke-dasharray="2.8 1.5"/>
<path d="M296.13,209.85 L296.40,209.55 L296.80,209.11 L297.20,208.66 L297.61,208.22 L298.01,207.77 L298.41,207.32 L298.81,206.88 L299.21,206.43 L299.61,205.99 L300.01,205.54 L302.24,206.74 L302.32,206.00 L302.39,205.26 L302.47,204.51 L302.55,203.76 L302.60,203.00 L302.74,202.36 L303.08,201.86 L303.42,201.37 L303.77,200.87 L304.11,200.38 L304.45,199.89 L303.26,198.36 L304.05,198.23 L304.82,198.07 L305.59,197.80 L305.89,197.28 L306.12,196.72 L306.34,196.16 L306.56,195.61 L306.79,195.05 L304.42,193.45 L305.81,193.36 L307.20,193.27 L307.68,192.82 L307.91,192.27 L308.13,191.71 L308.36,191.16 L308.60,190.61 L308.86,190.07 L309.12,189.53 L311.83,190.18 L311.39,189.30 L310.95,188.42 L310.52,187.54 L310.43,186.83 L310.70,186.29 L310.96,185.75 L311.22,185.21 L311.49,184.67 L311.75,184.13 L312.01,183.59 L312.23,183.04 L312.41,182.47 L312.53,181.88 L312.66,181.30 L312.78,180.71 L315.21,180.60 L314.95,179.94 L314.68,179.27 L314.42,178.60 L314.16,177.93 L313.90,177.26 L313.64,176.60 L313.76,176.01 L313.88,175.42 L314.01,174.84 L314.13,174.25 L314.25,173.66 L314.38,173.07 L314.49,172.49 L314.59,171.89 L314.66,171.30 L314.71,170.70 L312.48,169.91 L313.49,169.39 L314.50,168.88 L314.92,168.31 L314.97,167.71 L315.02,167.11 L315.07,166.52 L315.12,165.92 L315.17,165.32 L315.22,164.72 L313.58,163.98 L313.92,163.41 L314.26,162.83 L314.61,162.26 L314.96,161.68 L315.32,161.11 L315.64,160.54 L315.72,159.95 L315.80,159.36 L315.89,158.76 L315.97,158.17 L316.06,157.57 L316.14,156.98 L316.23,156.39 L316.31,155.79 L316.39,155.20 L316.48,154.60 L316.56,154.01 L316.65,153.42 L319.05,153.15 L318.21,152.43 L317.37,151.70 L316.98,151.04 L317.07,150.45 L317.15,149.85 L317.24,149.26 L317.32,148.66 L317.41,148.07 L317.49,147.48 L317.57,146.88 L317.67,146.29 L317.79,145.70 L317.93,145.12 L318.07,144.54 L320.79,144.61 L319.85,143.75 L318.91,142.89 L318.67,142.21 L318.82,141.63 L318.97,141.05 L319.11,140.47 L319.26,139.89 L319.41,139.31 L319.56,138.72 L319.71,138.14 L319.86,137.56 L318.19,136.60 L318.76,136.15 L319.32,135.65 L319.89,135.14 L320.39,134.61 L320.49,134.02 L320.59,133.43 L320.68,132.84 L320.78,132.24 L320.88,131.65 L320.98,131.06 L321.07,130.47 L319.12,129.54 L319.60,129.01 L320.07,128.48 L320.54,127.95 L321.02,127.42 L321.49,126.89 L321.75,126.32 L321.85,125.73 L321.95,125.14 L322.05,124.55 L322.14,123.95 L322.24,123.36 L322.34,122.77 L322.43,122.18 L322.53,121.59 L322.63,120.99 L322.73,120.40 L320.32,119.40 L321.11,118.92 L321.90,118.44 L322.68,117.96 L323.21,117.44 L323.31,116.85 L323.41,116.26 L323.50,115.67 L323.60,115.07 L323.70,114.48 L323.80,113.89 L326.59,113.74 L325.90,113.02 L325.21,112.30 L324.52,111.58 L324.28,110.93 L324.38,110.34 L324.48,109.75 L324.57,109.15 L324.65,108.56 L324.73,107.96 L324.80,107.37 L324.88,106.77 L324.95,106.18 L326.56,105.77 L326.14,105.12 L325.72,104.46 L325.31,103.80 L325.32,103.20 L325.39,102.60 L325.46,102.01 L325.54,101.41 L325.61,100.82 L325.69,100.22 L325.78,99.63 L325.92,99.05 L326.10,98.48 L326.31,97.92 L326.51,97.36 L326.72,96.79 L324.08,95.20 L325.30,95.05 L326.51,94.86 L327.46,94.51 L327.60,93.93 L327.74,93.35 L327.88,92.76 L328.02,92.18 L328.16,91.60 L328.30,91.01 L328.46,90.43 L328.61,89.85 L328.77,89.28 L328.93,88.70 L329.09,88.12 L329.25,87.54 L326.70,85.73 L327.80,85.33 L328.84,85.17 L329.83,85.09 L330.72,84.95 L331.05,84.45 L331.34,83.93 L331.60,83.39 L331.82,82.83 L332.04,82.27 L332.25,81.71 L332.47,81.15 L332.69,80.59 L332.89,80.03 L330.60,78.84 L331.54,78.53 L332.48,78.12 L333.41,77.69 L333.52,77.10 L333.63,76.51 L333.75,75.92 L333.86,75.33 L333.98,74.75 L334.11,74.16 L334.25,73.58 L334.39,72.99 L334.53,72.41 L334.68,71.83 L336.67,71.78 L336.36,71.24 L336.13,70.64 L336.03,69.95 L335.98,69.19 L336.28,68.67 L336.62,68.18 L336.96,67.68 L337.29,67.18 L337.60,66.67 L337.90,66.15 L338.21,65.63 L338.52,65.12 L338.82,64.60 L339.13,64.09 L341.32,65.03 L340.82,64.12 L340.55,63.07 L340.78,62.40 L341.25,62.03 L341.73,61.66 L342.06,61.22 L342.26,60.70 L342.31,60.10 L342.37,59.50 L342.43,58.91 L344.34,58.49 L344.05,57.86 L343.76,57.23 L343.47,56.63 L343.22,56.02 L343.01,55.38 L343.04,54.77 L343.20,54.19 L343.36,53.61 L343.52,53.03 L343.68,52.53 L343.87,52.41 L344.09,52.67 L344.34,53.22 L346.59,52.88 L346.46,53.59 L346.33,54.31 L346.21,55.02 L346.08,55.73 L345.95,56.44 L346.04,57.05 L346.31,57.59 L346.60,58.12 L346.88,58.65 L347.16,59.18 L347.44,59.71 L347.73,60.24 L348.01,60.77 L348.29,61.30 L348.57,61.83 L346.03,63.75 L346.67,63.88 L347.30,64.08 L347.94,64.43 L348.59,64.87 L349.25,65.33 L349.89,65.78 L350.03,66.37 L350.18,66.95 L350.32,67.53 L350.46,68.11 L350.61,68.70 L350.75,69.28 L350.90,69.86 L351.04,70.44 L351.19,71.03 L351.33,71.61 L351.48,72.19 L353.21,72.32 L353.05,72.97 L352.90,73.64 L352.75,74.31 L352.61,74.98 L352.50,75.64 L352.67,76.22 L352.84,76.79 L353.01,77.37 L353.19,77.94 L353.36,78.52 L353.53,79.09 L353.68,79.67 L353.80,80.26 L353.87,80.85 L353.93,81.45 L353.98,82.04 L351.44,82.87 L352.12,83.41 L352.80,83.95 L353.49,84.50 L354.17,85.04 L354.29,85.63 L354.34,86.23 L354.39,86.83 L354.45,87.42 L354.50,88.02 L354.55,88.62 L354.64,89.21 L354.75,89.80 L354.90,90.38 L356.92,90.48 L356.74,91.14 L356.56,91.81 L356.37,92.48 L356.19,93.15 L356.00,93.81 L355.95,94.45 L356.10,95.03 L356.25,95.61 L356.40,96.19 L356.55,96.77 L359.14,96.72 L358.66,97.46 L358.18,98.20 L357.70,98.95 L357.32,99.67 L357.48,100.25 L357.63,100.83 L357.79,101.41 L357.95,101.99 L358.11,102.56 L358.27,103.14 L358.43,103.72 L358.61,104.29 L358.81,104.86 L359.01,105.42 L359.22,105.99 L359.42,106.55 L361.63,106.39 L361.50,107.08 L361.37,107.76 L361.24,108.45 L361.11,109.13 L360.98,109.82 L360.85,110.50 L361.05,111.06 L361.26,111.63 L361.44,112.20 L361.60,112.78 L361.73,113.36 L361.85,113.95 L360.20,114.92 L360.65,115.44 L361.10,115.95 L361.55,116.47 L362.00,116.99 L362.45,117.50 L362.74,118.06 L362.86,118.64 L362.99,119.23 L363.12,119.81 L363.24,120.40 L363.37,120.99 L363.49,121.57 L363.62,122.16 L360.77,123.27 L361.96,123.60 L363.14,124.02 L363.96,124.53 L364.02,125.13 L364.08,125.73 L364.14,126.32 L364.20,126.92 L364.27,127.52 L362.27,128.33 L362.79,128.88 L363.30,129.43 L363.82,129.98 L364.33,130.53 L364.64,131.10 L364.70,131.70 L364.76,132.29 L364.82,132.89 L364.88,133.49 L364.94,134.08 L365.01,134.68 L365.07,135.28 L365.13,135.87 L363.46,136.65 L363.91,137.21 L364.37,137.78 L364.85,138.36 L365.37,138.88 L365.71,139.41 L365.91,139.97 L366.11,140.54 L366.30,141.11 L366.50,141.67 L366.70,142.24 L366.89,142.81 L365.48,143.93 L366.07,144.36 L366.66,144.80 L367.24,145.23 L367.84,145.66 L368.11,146.20 L368.35,146.74 L368.60,147.29 L368.86,147.83 L369.11,148.38 L370.90,148.20 L370.53,149.04 L370.16,149.87 L370.12,150.55 L370.38,151.09 L370.61,151.64 L370.77,152.21 L370.86,152.80 L370.91,153.40 L370.96,153.99 L371.01,154.59 L371.06,155.19 L371.10,155.79 L371.15,156.39 L371.20,156.98 L368.85,157.77 L369.45,158.33 L370.04,158.88 L370.64,159.44 L371.23,159.99 L371.49,160.57 L371.53,161.17 L371.59,161.77 L371.67,162.36 L371.77,162.95 L371.88,163.54 L371.98,164.13 L372.09,164.72 L372.20,165.32 L372.30,165.91 L374.61,166.00 L374.36,166.53 L374.17,167.11 L374.03,167.77 L373.91,168.46 L373.79,169.16 L373.67,169.86 L373.89,170.42 L374.12,170.97 L374.35,171.53 L374.57,172.08 L374.80,172.64 L375.03,173.19 L375.25,173.75 L375.47,174.31 L373.21,175.63 L373.92,175.96 L374.63,176.37 L375.36,176.81 L376.08,177.24 L376.41,177.78 L376.56,178.36 L376.70,178.94 L376.85,179.52 L377.00,180.11 L377.15,180.69 L377.30,181.27 L377.44,181.85 L377.59,182.43 L380.27,182.37 L379.90,183.08 L379.53,183.80 L379.16,184.51 L378.78,185.22 L378.49,185.92 L378.66,186.49 L378.85,187.06 L379.03,187.63 L379.22,188.20 L379.40,188.77 L381.04,188.87 L380.60,189.65 L380.16,190.42 L380.14,191.06 L380.33,191.63 L380.51,192.20 L380.70,192.77 L380.88,193.34 L381.07,193.91 L381.25,194.48 L382.69,194.65 L382.14,195.45 L381.81,196.19 L382.00,196.76 L382.20,197.32 L382.47,197.85 L382.79,198.36 L383.14,198.84 L383.50,199.32 L383.86,199.80 L384.21,200.28 L384.57,200.77 L384.93,201.25 L385.28,201.73 L385.64,202.21 L384.56,203.76 L385.39,203.90 L386.21,204.03 L387.04,204.16 L387.43,204.62 L387.80,205.09 L388.20,205.53 L388.64,205.93 L389.11,206.32 L389.57,206.70 L390.03,207.08 L390.49,207.46 L392.72,205.71 L392.82,206.54 L392.92,207.36 L393.02,208.18 L393.12,209.00 L393.27,209.76 L393.75,210.11 L394.25,210.43 L394.78,210.71 L395.31,210.99 L395.85,211.27 L396.38,211.54 L396.91,211.82 L396.39,213.50 L397.12,213.50 L397.66,213.50" fill="none" stroke="#000" stroke-width="1.8" stroke-linejoin="round" />
<path d="M87.60,375.86 L88.20,381.49 L88.80,380.31 L89.40,371.55 L90.00,371.97 L90.60,370.01 L91.20,373.91 L91.80,369.47 L92.40,372.08 L93.00,357.66 L93.60,373.91 L94.20,364.64 L94.80,367.81 L95.40,362.78 L96.00,360.61 L96.60,363.76 L97.20,355.16 L97.80,357.71 L98.40,356.70 L99.00,360.01 L99.60,350.20 L100.20,348.23 L100.80,360.13 L101.40,355.92 L102.00,350.86 L102.60,357.25 L103.20,348.35 L103.80,352.29 L104.40,349.18 L105.00,356.07 L105.60,358.42 L106.20,349.11 L106.80,343.15 L107.40,346.76 L108.00,346.51 L108.60,341.72 L109.20,348.00 L109.80,352.17 L110.40,346.16 L111.00,343.52 L111.60,360.69 L112.20,340.47 L112.80,355.79 L113.40,342.59 L114.00,353.16 L114.60,338.08 L115.20,328.73 L115.80,336.31 L116.40,336.74 L117.00,330.04 L117.60,344.50 L118.20,342.21 L118.80,342.23 L119.40,341.14 L120.00,344.36 L120.60,330.19 L121.20,341.93 L121.80,341.70 L122.40,323.97 L123.00,334.20 L123.60,316.15 L124.20,331.11 L124.80,321.21 L125.40,324.29 L126.00,338.46 L126.60,330.74 L127.20,329.26 L127.80,324.96 L128.40,329.20 L129.00,323.04 L129.60,322.62 L130.20,319.97 L130.80,326.69 L131.40,330.71 L132.00,332.78 L132.60,334.30 L133.20,309.69 L133.80,324.16 L134.40,319.24 L135.00,315.13 L135.60,310.46 L136.20,327.36 L136.80,311.93 L137.40,337.36 L138.00,331.52 L138.60,313.12 L139.20,322.51 L139.80,316.73 L140.40,327.30 L141.00,333.93 L141.60,335.63 L142.20,308.43 L142.80,314.70 L143.40,323.41 L144.00,330.27 L144.60,323.42 L145.20,316.58 L145.80,324.52 L146.40,323.40 L147.00,321.68 L147.60,316.19 L148.20,321.79 L148.80,319.35 L149.40,314.68 L150.00,314.73 L150.60,309.01 L151.20,315.97 L151.80,328.84 L152.40,320.66 L153.00,311.86 L153.60,329.97 L154.20,324.15 L154.80,334.32 L155.40,332.96 L156.00,319.03 L156.60,313.78 L157.20,333.34 L157.80,342.70 L158.40,321.82 L159.00,324.24 L159.60,333.51 L160.20,325.65 L160.80,330.53 L161.40,331.52 L162.00,336.39 L162.60,332.64 L163.20,338.28 L163.80,345.20 L164.40,349.08 L165.00,344.52 L165.60,331.37 L166.20,337.00 L166.80,352.10 L167.40,346.35 L168.00,355.22 L168.60,366.88 L169.20,363.64 L169.80,363.02 L170.40,366.26 L171.00,362.89 L171.60,362.86 L172.20,357.10 L172.80,361.52 L173.40,369.90 L174.00,375.63 L174.60,388.33 L175.20,385.00 L175.80,385.32 L176.40,381.86 L177.00,392.03 L177.60,395.92 L178.20,401.68 L178.80,402.60 L179.40,401.24 L180.00,397.39 L180.60,412.44 L181.20,410.31 L181.80,414.73 L182.40,412.43 L183.00,411.12 L183.60,415.60 L184.20,416.75 L184.80,417.87 L185.40,418.73 L186.00,418.87 L186.60,419.71 L187.20,416.91 L187.80,420.75 L188.40,420.36 L189.00,423.18 L189.60,422.66 L190.20,425.61 L190.80,426.61" fill="none" stroke="#7c7c7c" stroke-width="1.2" stroke-linejoin="round" />
<path d="M118.55,426.29 L119.34,426.80 L120.17,426.32 L120.74,425.91 L121.39,426.73 L122.20,423.55 L122.94,424.12 L123.50,423.65 L124.61,425.33 L125.32,426.80 L125.35,426.13 L126.39,426.80 L127.20,423.92 L127.71,425.71 L128.98,424.07 L129.00,426.54 L130.30,425.09 L130.45,424.68 L131.64,423.14 L131.66,423.47 L133.00,423.11 L133.69,421.59 L134.11,421.01 L134.64,421.75 L135.40,421.65 L135.86,422.10 L136.70,422.88 L137.61,422.83 L138.32,424.92 L138.98,422.68 L139.96,425.68 L140.20,424.42 L141.30,424.84 L142.05,424.29 L142.46,425.95 L142.86,425.75 L144.34,425.58 L144.91,424.13 L145.28,424.17 L146.58,425.42 L146.44,423.22 L147.43,421.75 L148.19,423.70 L148.73,422.79 L149.66,423.86 L149.97,424.16 L150.81,423.33 L151.60,421.83 L152.63,423.23 L153.19,423.88 L153.38,422.51 L154.47,423.07 L155.01,423.44 L155.70,422.22 L156.94,424.63 L156.99,425.51 L157.65,425.36 L158.80,425.61 L158.94,424.94 L160.11,425.61 L160.40,422.73 L161.95,421.93 L162.38,422.02 L163.11,419.86 L163.08,418.65 L164.06,418.89 L165.27,419.78 L165.39,419.39 L165.89,416.68 L167.36,415.80 L167.47,417.05 L168.49,416.72 L168.79,416.40 L169.43,416.72 L170.49,416.86 L171.34,415.29 L172.14,415.24 L172.90,412.98 L173.31,412.62 L174.11,413.91 L174.59,414.11 L175.62,413.91 L176.01,413.49 L176.54,413.43 L177.26,413.19 L177.82,409.86 L179.05,410.47 L179.23,411.27 L180.25,410.91 L180.82,408.08 L182.02,410.52 L182.23,408.24 L183.01,408.21 L183.77,408.70 L184.46,409.15 L185.22,406.68 L185.90,409.28 L186.63,408.21 L187.22,407.21 L188.22,407.62 L188.75,404.95 L189.96,406.08 L190.68,406.43 L190.07,404.88 L191.70,404.42 L191.68,403.62 L193.31,402.84 L192.84,402.98 L194.45,400.76 L195.66,399.30 L195.88,399.07 L195.89,399.82 L197.73,395.49 L198.92,395.39 L197.92,391.34 L198.20,394.11 L199.62,391.95 L200.34,391.60 L200.98,388.19 L203.33,385.31 L201.93,386.78 L202.09,385.19 L202.70,381.26 L204.76,378.95 L205.10,381.18 L206.18,379.36 L207.23,383.07 L207.29,376.98 L207.66,376.29 L209.71,376.16 L209.16,372.72 L209.89,373.19 L209.32,375.76 L212.21,370.92 L211.53,368.30 L214.12,365.31 L213.64,366.90 L215.81,365.28 L214.69,362.78 L217.03,359.79 L215.12,359.37 L216.86,357.77 L217.44,353.91 L218.45,354.76 L218.25,347.29 L219.29,346.15 L222.98,345.40 L219.76,343.03 L222.28,337.94 L224.78,338.05 L223.54,335.58 L224.16,330.09 L225.20,325.43 L224.19,322.58 L225.18,317.24 L228.09,309.04 L228.33,307.83 L227.41,308.26 L229.22,298.48 L232.14,298.62 L229.40,294.70 L232.72,290.59 L234.03,287.55 L232.98,288.04 L232.29,286.93 L234.10,285.22 L235.91,278.57 L236.17,280.13 L237.61,280.23 L237.01,280.01 L235.63,277.23 L236.44,275.71 L240.13,274.50 L239.89,272.42 L241.50,266.43 L242.05,267.84 L242.28,264.38 L242.87,258.01 L244.09,258.71 L243.05,268.67 L244.66,257.62 L245.73,255.35 L246.14,261.45 L246.58,268.52 L247.45,263.70 L248.10,264.93 L249.22,262.76 L248.37,264.38 L250.95,271.01 L249.54,272.22 L250.06,272.25 L250.38,277.77 L252.49,281.04 L255.28,280.12 L256.30,284.27 L255.36,286.55 L257.23,285.73 L257.16,292.50 L258.97,290.61 L256.77,291.12 L257.62,290.60 L258.39,297.50 L261.50,310.48 L262.72,307.27 L262.67,313.27 L264.16,313.31 L260.73,317.52 L262.11,320.12 L262.77,321.34 L264.25,327.07 L265.12,332.69 L265.97,337.85 L265.59,342.28 L267.91,344.08 L269.19,348.46 L270.58,352.26 L268.37,353.04 L272.73,352.80 L270.31,357.02 L271.66,358.32 L274.35,361.05 L271.96,365.61 L273.78,363.68 L274.19,366.02 L273.85,366.40 L274.42,369.35 L275.76,370.73 L277.65,376.33 L276.53,375.96 L277.83,376.36 L281.43,382.30 L280.34,378.92 L280.18,384.32 L283.77,386.49 L283.38,387.76 L282.56,388.49 L285.32,390.65 L282.70,392.33 L284.60,395.80 L287.54,393.46 L286.79,397.37 L286.10,399.73 L286.77,400.39 L290.22,400.52 L289.12,403.88 L291.41,404.85 L290.27,408.02 L291.77,409.65 L291.76,409.16 L293.71,407.94 L294.30,410.82 L295.37,411.00 L295.08,413.74 L296.25,415.82 L295.96,414.97 L297.34,417.47 L298.21,417.51 L298.91,417.22 L299.02,416.12 L299.38,417.91 L300.85,416.82 L301.73,420.17 L302.15,419.78 L302.45,421.77 L303.42,421.00 L304.01,418.90 L305.17,422.09 L305.73,422.74 L306.38,423.89 L307.16,421.33 L308.04,421.72 L308.73,423.15 L308.85,422.25 L309.66,422.05 L310.63,422.49 L311.17,426.67 L311.96,423.24 L312.57,422.94 L313.38,423.69 L314.07,424.30 L314.65,425.84 L315.46,425.59 L315.97,425.54 L316.69,424.85 L317.50,425.09 L318.21,424.23 L318.92,423.29 L319.58,426.80 L320.29,424.48 L320.99,426.11 L321.71,424.67 L322.40,424.93 L323.09,424.88 L323.80,423.55 L324.50,424.99 L325.20,425.51" fill="none" stroke="#000" stroke-width="1.45" stroke-linejoin="round" />
<path d="M233.49,283.43 L233.40,282.83 L233.69,281.27 L233.75,282.29 L235.00,287.95 L235.52,276.57 L236.43,283.87 L236.94,283.74 L236.68,276.94 L237.87,274.33 L238.57,276.90 L238.04,278.03 L238.90,279.86 L239.34,274.09 L239.68,275.70 L240.17,267.76 L240.39,265.45 L240.85,261.64 L241.48,262.78 L242.32,264.63 L242.91,265.61 L243.62,259.29 L243.42,265.86 L244.22,261.61 L244.69,258.70 L244.85,259.06 L246.21,269.77 L246.05,263.97 L246.77,260.80 L247.22,260.51 L247.73,270.31 L248.24,261.65 L248.76,267.83 L249.03,268.57 L250.04,256.79 L249.83,271.62 L250.30,268.02 L251.79,266.86 L252.20,270.62 L252.66,276.32 L251.95,277.65 L254.13,279.80 L253.96,277.91 L254.13,286.59 L255.53,289.29" fill="none" stroke="#000" stroke-width="1.3" stroke-linejoin="round" />
<path d="M334.27,426.40 L334.62,426.20 L335.14,425.91 L335.66,425.61 L336.19,425.31 L336.71,425.02 L337.23,424.72 L337.75,424.42 L338.27,424.12 L338.79,423.83 L339.31,423.53 L339.84,423.23 L341.46,424.81 L341.92,424.07 L342.30,423.22 L342.50,422.38 L342.52,421.61 L342.51,420.90 L342.63,420.26 L342.94,419.76 L343.26,419.25 L343.58,418.74 L343.90,418.23 L344.21,417.72 L342.96,416.23 L343.55,415.89 L344.15,415.56 L344.74,415.22 L345.33,414.88 L345.91,414.55 L346.36,414.12 L346.56,413.56 L346.71,412.98 L346.85,412.40 L347.00,411.82 L349.53,411.84 L349.28,411.15 L349.03,410.47 L348.78,409.79 L348.53,409.11 L348.28,408.43 L348.03,407.74 L348.17,407.16 L348.32,406.58 L348.47,406.00 L348.61,405.42 L348.76,404.83 L348.91,404.25 L349.05,403.67 L349.20,403.09 L349.35,402.51 L349.47,401.92 L349.58,401.33 L347.96,400.49 L348.70,399.99 L349.44,399.49 L349.93,398.96 L350.02,398.36 L350.10,397.77 L350.19,397.18 L350.28,396.58 L350.36,395.99 L350.45,395.40 L350.54,394.80 L350.62,394.21 L350.71,393.61 L350.79,393.02 L350.88,392.43 L352.66,392.08 L352.28,391.42 L351.90,390.76 L351.52,390.10 L351.31,389.46 L351.40,388.86 L351.49,388.27 L351.57,387.68 L351.66,387.08 L351.75,386.49 L351.83,385.90 L351.92,385.30 L352.01,384.71 L352.10,384.12 L352.18,383.52 L352.27,382.93 L350.95,382.13 L351.39,381.59 L351.83,381.04 L352.27,380.50 L352.70,379.96 L352.79,379.37 L352.88,378.77 L352.96,378.18 L353.05,377.58 L353.14,376.99 L353.22,376.40 L353.31,375.80 L353.40,375.21 L353.49,374.62 L353.57,374.02 L353.66,373.43 L351.93,372.57 L352.31,372.02 L352.70,371.47 L353.09,370.92 L353.48,370.37 L353.87,369.82 L354.25,369.27 L354.35,368.68 L354.44,368.09 L354.53,367.49 L354.62,366.90 L354.72,366.31 L354.82,365.72 L354.91,365.12 L355.01,364.53 L355.11,363.94 L355.21,363.35 L355.31,362.76 L355.41,362.16 L355.51,361.57 L357.13,361.24 L356.45,360.51 L355.81,359.80 L355.91,359.21 L356.01,358.61 L356.10,358.02 L356.20,357.43 L356.30,356.84 L356.40,356.25 L356.50,355.66 L356.60,355.06 L356.70,354.47 L356.80,353.88 L356.90,353.29 L357.00,352.70 L357.10,352.11 L356.15,351.34 L356.77,350.83 L357.39,350.33 L357.49,349.74 L357.59,349.15 L357.68,348.55 L357.75,347.96 L357.81,347.36 L357.87,346.76 L357.92,346.17 L357.98,345.57 L358.04,344.97 L358.10,344.37 L358.15,343.78 L359.80,343.33 L359.45,342.70 L359.09,342.06 L358.73,341.42 L358.44,340.79 L358.50,340.19 L358.56,339.60 L358.61,339.00 L358.67,338.40 L358.73,337.80 L357.31,337.07 L357.67,336.50 L358.04,335.93 L358.40,335.37 L358.75,334.80 L359.04,334.22 L359.07,333.62 L359.11,333.02 L359.14,332.42 L359.17,331.82 L359.20,331.22 L359.24,330.62 L359.27,330.03 L359.30,329.43 L359.33,328.83 L359.37,328.23 L359.40,327.63 L359.43,327.03 L357.64,326.33 L358.03,325.75 L358.42,325.17 L358.82,324.59 L359.21,324.01 L359.60,323.43 L359.66,322.84 L359.69,322.24 L359.72,321.64 L359.75,321.04 L359.79,320.44 L359.82,319.84 L359.85,319.24 L359.88,318.64 L359.92,318.04 L359.95,317.44 L359.99,316.84 L361.22,316.35 L360.95,315.74 L360.69,315.11 L360.44,314.48 L360.29,313.86 L360.35,313.26 L360.42,312.67 L360.48,312.07 L360.55,311.47 L360.61,310.88 L360.68,310.28 L360.74,309.68 L360.81,309.09 L360.87,308.49 L360.94,307.90 L362.96,307.51 L362.67,306.88 L362.38,306.24 L362.08,305.61 L361.79,304.97 L361.50,304.34 L361.39,303.72 L361.45,303.12 L361.52,302.53 L361.58,301.93 L361.65,301.33 L361.71,300.74 L361.78,300.14 L361.84,299.54 L361.92,298.95 L362.02,298.36 L362.13,297.77 L362.24,297.18 L362.35,296.59 L364.56,296.39 L364.30,295.73 L364.04,295.07 L363.78,294.41 L363.51,293.75 L363.25,293.10 L363.11,292.46 L363.22,291.87 L363.33,291.28 L363.44,290.69 L363.55,290.10 L363.66,289.51 L363.77,288.92 L361.81,287.95 L362.37,287.44 L362.93,286.93 L363.49,286.43 L364.05,285.92 L364.44,285.38 L364.57,284.80 L364.73,284.22 L364.91,283.65 L365.08,283.07 L365.25,282.50 L363.65,281.39 L364.20,280.93 L364.74,280.47 L365.27,280.01 L365.80,279.54 L366.24,279.04 L366.39,278.45 L366.53,277.87 L366.68,277.29 L366.82,276.71 L366.97,276.13 L367.11,275.54 L367.26,274.96 L367.41,274.38 L365.52,273.28 L366.26,272.84 L367.01,272.42 L367.75,271.99 L368.16,271.48 L368.31,270.90 L368.46,270.31 L368.61,269.73 L368.76,269.15 L366.57,267.92 L367.12,267.44 L367.65,266.97 L368.19,266.50 L368.73,266.03 L369.27,265.56 L369.81,265.08 L370.07,264.53 L370.23,263.96 L370.41,263.39 L370.65,262.84 L370.93,262.32 L371.26,261.82 L372.81,262.10 L372.91,261.45 L373.02,260.80 L373.12,260.16 L373.22,259.51 L373.31,258.91 L373.47,258.67 L373.71,258.89 L373.91,259.46 L374.11,260.03 L374.30,260.59 L374.50,261.16 L374.70,261.73 L374.90,262.29 L373.59,263.39 L374.12,263.83 L374.64,264.28 L375.17,264.73 L375.69,265.19 L376.07,265.70 L376.26,266.27 L376.45,266.84 L376.63,267.40 L376.83,267.97 L377.03,268.54 L377.24,269.10 L377.46,269.66 L378.76,269.78 L378.37,270.59 L378.13,271.33 L378.35,271.89 L378.58,272.44 L378.80,273.00 L379.02,273.56 L379.25,274.11 L379.47,274.67 L379.71,275.22 L379.97,275.76 L380.23,276.30 L380.48,276.84 L380.74,277.38 L379.82,278.50 L380.29,278.93 L380.76,279.37 L381.24,279.82 L381.72,280.25 L382.20,280.68 L382.60,281.15 L382.88,281.68 L383.15,282.22 L383.43,282.75 L383.71,283.28 L383.98,283.81 L384.26,284.35 L384.52,284.89 L382.66,286.34 L383.44,286.62 L384.24,286.94 L385.04,287.26 L385.66,287.66 L385.89,288.22 L386.11,288.77 L386.33,289.33 L386.55,289.89 L386.75,290.45 L386.95,291.02 L387.14,291.59 L387.33,292.16 L387.53,292.72 L387.72,293.29 L387.91,293.86 L386.47,294.97 L387.06,295.39 L387.64,295.83 L388.22,296.28 L388.79,296.73 L388.99,297.30 L389.16,297.87 L389.33,298.45 L389.51,299.02 L389.68,299.60 L389.84,300.17 L389.99,300.75 L390.15,301.33 L388.43,302.40 L388.96,302.88 L389.49,303.36 L390.02,303.85 L390.54,304.33 L391.05,304.82 L391.21,305.40 L391.37,305.97 L391.55,306.55 L391.72,307.12 L391.90,307.69 L392.07,308.27 L392.25,308.84 L392.42,309.42 L392.60,309.99 L392.77,310.56 L392.95,311.14 L394.78,311.21 L394.48,311.93 L394.18,312.65 L393.87,313.36 L393.82,314.01 L393.99,314.58 L394.17,315.16 L394.34,315.73 L394.51,316.31 L394.69,316.88 L394.86,317.46 L393.21,318.58 L393.70,319.06 L394.20,319.53 L394.70,320.01 L395.20,320.49 L395.69,320.96 L396.07,321.48 L396.24,322.05 L396.42,322.63 L396.59,323.20 L396.76,323.78 L396.93,324.35 L397.09,324.93 L397.25,325.51 L397.42,326.08 L397.58,326.66 L399.10,326.86 L398.88,327.54 L398.65,328.23 L398.43,328.92 L398.39,329.55 L398.55,330.13 L398.70,330.71 L398.82,331.29 L398.92,331.89 L398.99,332.48 L399.07,333.08 L399.15,333.67 L397.08,334.54 L397.86,335.05 L398.65,335.55 L399.43,336.05 L399.53,336.65 L399.61,337.24 L399.69,337.84 L399.77,338.43 L399.84,339.03 L399.92,339.62 L400.00,340.22 L400.07,340.81 L397.93,341.69 L398.52,342.22 L399.12,342.75 L399.72,343.28 L400.32,343.80 L400.54,344.38 L400.62,344.98 L400.69,345.57 L400.78,346.16 L400.90,346.75 L401.04,347.33 L401.18,347.92 L401.33,348.50 L401.48,349.08 L399.67,350.15 L400.41,350.59 L401.14,351.02 L401.87,351.46 L402.21,351.99 L402.36,352.57 L402.50,353.15 L402.65,353.73 L402.80,354.32 L402.94,354.90 L403.09,355.48 L403.24,356.06 L403.39,356.64 L403.53,357.22 L403.68,357.81 L403.83,358.39 L403.97,358.97 L402.16,360.05 L402.72,360.52 L403.27,361.00 L403.83,361.48 L404.39,361.96 L404.85,362.46 L405.00,363.04 L405.15,363.62 L405.29,364.21 L405.44,364.79 L405.59,365.37 L405.74,365.95 L405.88,366.53 L407.61,366.64 L407.32,367.33 L407.05,368.04 L406.78,368.76 L406.79,369.39 L406.98,369.96 L407.17,370.53 L407.36,371.10 L407.55,371.67 L407.74,372.24 L407.93,372.81 L408.11,373.38 L408.30,373.95 L408.49,374.52 L408.68,375.08 L408.87,375.65 L407.66,376.69 L408.18,377.15 L408.69,377.61 L409.21,378.07 L409.72,378.53 L410.00,379.07 L410.19,379.64 L410.38,380.21 L410.57,380.78 L410.76,381.35 L410.95,381.92 L411.13,382.49 L409.85,383.55 L410.36,384.01 L410.87,384.47 L411.38,384.94 L411.90,385.40 L412.28,385.90 L412.48,386.47 L412.69,387.03 L412.89,387.59 L413.10,388.16 L413.30,388.72 L413.50,389.29 L413.71,389.85 L413.91,390.42 L414.12,390.98 L414.32,391.54 L414.52,392.11 L414.73,392.67 L416.65,392.62 L416.40,393.34 L416.16,394.07 L415.92,394.79 L415.75,395.49 L415.95,396.06 L416.15,396.62 L416.36,397.19 L416.56,397.75 L416.76,398.32 L416.97,398.88 L417.18,399.44 L417.39,400.00 L416.50,401.02 L416.92,401.50 L417.34,401.97 L417.76,402.45 L418.18,402.92 L418.60,403.40 L418.99,403.89 L419.22,404.44 L419.45,404.99 L419.68,405.55 L419.91,406.10 L420.14,406.66 L420.37,407.21 L420.60,407.77 L420.83,408.32 L421.06,408.87 L421.29,409.43 L421.52,409.98 L422.69,410.15 L422.57,410.84 L422.45,411.53 L422.50,412.16 L422.83,412.66 L423.19,413.14 L423.55,413.62 L423.91,414.10 L424.27,414.58 L424.64,415.06 L425.00,415.54 L425.36,416.01 L425.72,416.49 L426.08,416.97 L428.26,416.08 L428.33,416.78 L428.40,417.48 L428.47,418.18 L428.54,418.88 L428.60,419.56 L428.70,420.24 L429.07,420.71 L429.53,421.11 L429.98,421.50 L430.43,421.89 L430.88,422.29 L431.34,422.68 L431.79,423.08 L431.37,424.46 L432.04,424.62 L432.70,424.77 L433.21,424.79" fill="none" stroke="#8c8c8c" stroke-width="1.45" stroke-linejoin="round" />
<path d="M278.69,426.34 L279.07,426.21 L279.64,426.03 L280.21,425.84 L280.78,425.65 L281.35,425.47 L281.92,425.28 L282.49,425.09 L283.06,424.90 L283.63,424.72 L284.19,424.51 L284.71,424.23 L285.19,423.89 L285.64,423.49 L285.12,421.99 L285.84,421.90 L286.57,421.82 L287.29,421.73 L287.89,421.51 L288.34,421.11 L288.79,420.72 L289.24,420.32 L289.70,419.93 L290.15,419.53 L290.60,419.13 L291.05,418.74 L291.50,418.34 L291.95,417.95 L292.39,417.55 L292.77,417.09 L293.07,416.59 L294.64,416.63 L294.55,415.94 L294.46,415.24 L294.37,414.54 L294.29,413.85 L294.54,413.30 L294.78,412.75 L295.03,412.21 L295.27,411.66 L295.51,411.11 L295.76,410.56 L296.00,410.01 L296.25,409.47 L296.49,408.92 L296.72,408.36 L296.91,407.80 L297.06,407.22 L297.18,406.63 L298.61,406.31 L298.39,405.65 L298.17,405.00 L297.95,404.34 L297.78,403.69 L297.90,403.10 L298.02,402.52 L298.14,401.93 L298.26,401.34 L298.38,400.75 L298.50,400.17 L298.62,399.58 L299.99,399.24 L299.78,398.58 L299.56,397.91 L299.32,397.26 L299.13,396.62 L299.20,396.03 L299.28,395.43 L299.35,394.84 L299.42,394.24 L299.49,393.65 L299.57,393.05 L299.64,392.45 L299.71,391.86 L299.78,391.26 L299.86,390.67 L300.89,390.19 L300.70,389.56 L300.51,388.93 L300.32,388.31 L300.22,387.69 L300.29,387.09 L300.37,386.50 L300.44,385.90 L300.51,385.31 L300.58,384.71 L300.66,384.12 L300.73,383.52 L300.80,382.93 L300.87,382.33 L300.95,381.73 L301.03,381.14 L301.13,380.55 L301.23,379.96 L301.32,379.36 L301.42,378.77 L301.52,378.18 L302.56,377.75 L302.29,377.09 L302.02,376.44 L301.92,375.81 L302.02,375.22 L302.12,374.63 L302.22,374.04 L302.32,373.45 L302.42,372.86 L302.51,372.26 L302.61,371.67 L302.71,371.08 L302.81,370.49 L302.91,369.90 L303.01,369.30 L303.11,368.71 L303.21,368.12 L303.31,367.53 L303.41,366.94 L302.50,366.18 L302.89,365.63 L303.28,365.09 L303.67,364.55 L303.90,363.98 L304.00,363.39 L304.08,362.79 L304.15,362.20 L304.20,361.60 L304.25,361.00 L304.30,360.40 L305.71,359.92 L305.21,359.28 L304.70,358.63 L304.51,358.01 L304.56,357.42 L304.61,356.82 L304.66,356.22 L304.71,355.62 L304.76,355.02 L304.81,354.43 L304.87,353.83 L303.40,353.10 L304.12,352.56 L304.83,352.02 L305.07,351.44 L305.12,350.84 L305.17,350.24 L305.22,349.64 L305.27,349.05 L305.33,348.45 L305.38,347.85 L305.43,347.25 L305.48,346.65 L305.53,346.06 L305.59,345.46 L305.65,344.86 L305.71,344.27 L305.77,343.67 L305.83,343.07 L305.88,342.47 L307.57,342.04 L307.29,341.41 L307.00,340.77 L306.72,340.14 L306.43,339.51 L306.23,338.89 L306.29,338.29 L306.35,337.70 L306.41,337.10 L306.47,336.50 L306.53,335.91 L306.58,335.31 L306.64,334.71 L306.70,334.11 L306.76,333.52 L305.81,332.81 L306.08,332.23 L306.36,331.66 L306.64,331.09 L306.92,330.51 L307.17,329.94 L307.24,329.34 L307.31,328.75 L307.38,328.15 L307.44,327.56 L307.51,326.96 L307.58,326.36 L307.65,325.77 L307.72,325.17 L307.79,324.58 L307.86,323.98 L307.93,323.38 L308.00,322.79 L308.07,322.19 L309.15,321.71 L308.88,321.08 L308.62,320.44 L308.35,319.81 L308.42,319.21 L308.49,318.62 L308.56,318.02 L308.63,317.42 L308.69,316.83 L308.76,316.23 L308.83,315.64 L308.90,315.04 L310.28,314.60 L310.07,313.97 L309.85,313.34 L309.64,312.71 L309.42,312.08 L309.32,311.47 L309.39,310.87 L309.46,310.27 L309.53,309.68 L309.62,309.08 L309.73,308.50 L309.86,307.91 L309.98,307.32 L310.11,306.74 L310.24,306.15 L310.36,305.56 L310.49,304.98 L310.62,304.39 L309.32,303.50 L309.76,302.98 L310.19,302.46 L310.63,301.94 L311.07,301.42 L311.38,300.87 L311.51,300.28 L311.63,299.70 L311.76,299.11 L311.89,298.53 L312.00,297.94 L312.11,297.35 L312.21,296.76 L312.32,296.16 L312.42,295.57 L312.52,294.98 L312.62,294.39 L312.73,293.80 L312.83,293.21 L312.93,292.62 L313.03,292.03 L313.13,291.43 L314.32,291.03 L314.18,290.40 L314.04,289.77 L313.91,289.13 L313.77,288.50 L313.75,287.89 L313.85,287.30 L313.95,286.70 L314.04,286.11 L314.14,285.52 L314.24,284.93 L314.33,284.34 L314.43,283.74 L314.52,283.15 L313.33,282.35 L314.00,281.85 L314.68,281.35 L314.91,280.78 L315.00,280.19 L315.10,279.60 L315.20,279.01 L315.29,278.41 L315.39,277.82 L315.48,277.23 L315.58,276.64 L315.70,276.05 L315.84,275.47 L316.00,274.89 L316.18,274.32 L316.35,273.74 L316.52,273.17 L318.29,273.07 L317.94,272.34 L317.59,271.61 L317.24,270.88 L317.39,270.29 L317.56,269.72 L317.73,269.15 L317.91,268.57 L318.08,268.00 L318.25,267.42 L318.44,266.85 L318.64,266.29 L318.87,265.74 L319.11,265.18 L319.35,264.63 L318.17,263.47 L318.78,263.08 L319.39,262.69 L320.00,262.30 L320.54,261.88 L320.78,261.33 L321.02,260.78 L321.25,260.23 L321.49,259.68 L321.73,259.13 L321.99,258.88 L322.28,258.99 L322.59,259.45 L322.90,259.96 L323.22,260.47 L323.54,260.98 L323.85,261.49 L324.17,262.00 L324.48,262.51 L324.80,263.02 L323.93,264.26 L324.73,264.46 L325.52,264.68 L326.00,265.09 L326.24,265.64 L326.46,266.20 L326.69,266.76 L326.91,267.31 L327.13,267.87 L327.36,268.43 L327.58,268.98 L327.81,269.54 L328.03,270.10 L328.25,270.65 L328.48,271.21 L328.70,271.77 L328.93,272.32 L329.15,272.88 L330.16,273.13 L330.17,273.78 L330.17,274.43 L330.15,275.08 L330.15,275.71 L330.34,276.28 L330.52,276.85 L330.71,277.42 L330.89,277.99 L331.08,278.56 L331.26,279.13 L331.45,279.70 L330.92,280.50 L331.26,281.02 L331.59,281.55 L331.93,282.07 L332.27,282.59 L332.56,283.12 L332.74,283.70 L332.93,284.27 L333.12,284.83 L333.33,285.40 L333.54,285.96 L333.77,286.51 L333.99,287.07 L334.22,287.63 L334.44,288.18 L334.66,288.74 L334.89,289.30 L335.11,289.85 L335.34,290.41 L335.56,290.97 L335.78,291.52 L336.01,292.08 L337.29,292.21 L337.24,292.88 L337.20,293.57 L337.10,294.26 L336.95,294.90 L337.01,295.50 L337.06,296.10 L337.12,296.70 L337.17,297.30 L337.22,297.89 L337.28,298.49 L337.33,299.09 L337.39,299.69 L337.44,300.28 L337.49,300.88 L337.55,301.48 L338.64,301.98 L338.40,302.61 L338.16,303.23 L337.91,303.85 L337.82,304.47 L337.88,305.06 L337.95,305.66 L338.04,306.25 L338.13,306.84 L338.23,307.44 L338.33,308.03 L338.42,308.62 L338.52,309.21 L339.75,309.62 L339.47,310.27 L339.19,310.93 L338.91,311.58 L339.00,312.17 L339.09,312.77 L339.19,313.36 L339.29,313.95 L339.38,314.54 L339.48,315.14 L339.57,315.73 L339.68,316.32 L339.81,316.90 L339.95,317.49 L338.64,318.44 L339.11,318.94 L339.58,319.44 L340.04,319.94 L340.51,320.44 L340.83,320.98 L340.98,321.56 L341.12,322.14 L341.27,322.72 L341.42,323.30 L341.56,323.89 L341.71,324.47 L341.86,325.05 L342.00,325.63 L342.15,326.21 L342.30,326.79 L341.58,327.57 L341.95,328.09 L342.30,328.63 L342.65,329.17 L342.92,329.73 L343.03,330.32 L343.15,330.91 L343.26,331.50 L343.38,332.08 L343.49,332.67 L343.61,333.26 L343.72,333.85 L343.84,334.44 L343.95,335.03 L345.22,335.39 L345.10,336.03 L344.98,336.68 L344.84,337.32 L344.70,337.95 L344.57,338.57 L344.66,339.17 L344.75,339.76 L344.84,340.35 L344.94,340.95 L345.03,341.54 L345.12,342.13 L345.21,342.73 L345.30,343.32 L346.50,343.74 L346.31,344.38 L346.11,345.02 L345.91,345.65 L345.75,346.28 L345.84,346.88 L345.94,347.47 L346.03,348.06 L346.12,348.66 L346.21,349.25 L346.30,349.84 L347.34,350.29 L347.14,350.93 L346.94,351.57 L346.74,352.20 L346.75,352.81 L346.84,353.40 L346.93,354.00 L347.02,354.59 L347.11,355.18 L347.20,355.78 L347.29,356.37 L347.38,356.96 L347.47,357.55 L349.02,357.93 L348.47,358.62 L347.91,359.31 L347.83,359.93 L347.92,360.52 L348.01,361.11 L348.09,361.71 L348.18,362.30 L348.27,362.89 L348.36,363.49 L348.45,364.08 L348.54,364.67 L348.63,365.27 L348.72,365.86 L348.81,366.45 L348.90,367.05 L350.01,367.49 L349.63,368.15 L349.25,368.81 L349.26,369.42 L349.35,370.01 L349.44,370.61 L349.54,371.20 L349.65,371.79 L349.76,372.38 L349.87,372.97 L349.98,373.56 L351.40,373.90 L351.15,374.56 L350.90,375.22 L350.66,375.87 L350.53,376.51 L350.65,377.10 L350.76,377.69 L350.87,378.27 L350.98,378.86 L351.09,379.45 L351.20,380.04 L351.31,380.63 L350.26,381.44 L350.60,381.99 L350.94,382.53 L351.29,383.08 L351.63,383.63 L351.97,384.17 L352.09,384.76 L352.20,385.35 L352.31,385.94 L352.42,386.53 L352.54,387.12 L352.68,387.70 L352.86,388.27 L353.05,388.84 L353.24,389.41 L353.43,389.98 L353.62,390.55 L353.81,391.12 L354.00,391.69 L354.98,391.99 L355.02,392.61 L355.05,393.23 L355.09,393.85 L355.12,394.47 L355.16,395.09 L355.32,395.67 L355.51,396.24 L355.70,396.81 L355.89,397.38 L356.08,397.95 L356.27,398.52 L356.46,399.09 L356.66,399.65 L356.87,400.21 L357.09,400.77 L357.31,401.33 L357.54,401.89 L357.76,402.44 L356.86,403.45 L357.31,403.92 L357.76,404.38 L358.21,404.85 L358.66,405.31 L359.10,405.78 L359.33,406.34 L359.55,406.90 L359.78,407.45 L360.00,408.01 L360.22,408.57 L360.45,409.12 L360.68,409.67 L360.95,410.21 L361.25,410.72 L361.57,411.23 L361.89,411.74 L362.21,412.25 L362.53,412.76 L362.85,413.27 L363.94,413.29 L363.98,413.97 L364.02,414.65 L364.12,415.30 L364.44,415.81 L364.76,416.32 L365.08,416.83 L365.39,417.33 L365.72,417.84 L366.09,418.31 L366.50,418.73 L366.95,419.13 L367.40,419.52 L367.85,419.92 L368.31,420.31 L368.76,420.71 L369.21,421.10 L369.66,421.50 L369.62,422.46 L370.36,422.52 L371.02,422.68 L371.47,423.08 L371.92,423.47 L372.37,423.86 L372.84,424.23 L373.35,424.52 L373.90,424.74 L374.47,424.92 L374.76,426.02 L375.44,425.85 L376.12,425.68 L376.77,425.62 L377.34,425.80 L377.72,425.92" fill="none" stroke="#000" stroke-width="1.8" stroke-linejoin="round" stroke-dasharray="2.8 1.5"/>
<path d="M306.37,426.80 L306.71,426.68 L307.21,426.36 L307.72,426.04 L308.23,425.71 L308.73,425.39 L309.24,425.07 L309.75,424.75 L310.23,424.40 L310.68,424.01 L309.95,422.43 L310.60,422.23 L311.25,422.03 L311.90,421.84 L312.55,421.64 L313.20,421.44 L313.66,421.04 L314.07,420.61 L314.43,420.14 L314.73,419.63 L315.00,419.09 L315.26,418.55 L315.53,418.02 L315.79,417.48 L316.06,416.94 L314.24,415.37 L315.20,415.18 L316.16,414.98 L317.12,414.79 L317.39,414.25 L317.65,413.71 L317.92,413.18 L318.19,412.64 L318.44,412.09 L318.68,411.54 L318.91,410.99 L316.63,409.43 L317.44,409.10 L318.24,408.78 L319.05,408.46 L319.86,408.14 L320.25,407.65 L320.47,407.09 L320.70,406.54 L320.92,405.98 L321.14,405.42 L321.37,404.87 L321.59,404.31 L321.82,403.75 L322.04,403.20 L322.26,402.64 L322.47,402.08 L322.64,401.50 L325.06,401.43 L324.64,400.70 L324.21,399.99 L323.78,399.29 L323.35,398.59 L323.39,397.99 L323.52,397.40 L323.64,396.81 L323.76,396.22 L323.88,395.64 L322.32,394.70 L322.75,394.17 L323.18,393.65 L323.61,393.13 L324.04,392.60 L324.47,392.08 L324.74,391.52 L324.86,390.94 L324.99,390.35 L325.11,389.76 L325.23,389.17 L325.35,388.59 L325.47,388.00 L325.59,387.41 L325.69,386.82 L323.95,385.95 L324.33,385.40 L324.70,384.85 L325.08,384.30 L325.46,383.75 L325.83,383.20 L326.21,382.65 L326.41,382.07 L326.50,381.48 L326.59,380.89 L326.68,380.29 L326.77,379.70 L326.86,379.11 L326.95,378.51 L327.04,377.92 L327.13,377.33 L327.22,376.74 L327.31,376.14 L327.40,375.55 L324.80,374.55 L325.50,374.05 L326.20,373.55 L326.90,373.05 L327.61,372.55 L327.94,371.99 L328.03,371.40 L328.12,370.80 L328.21,370.21 L328.30,369.62 L328.39,369.02 L328.48,368.43 L328.57,367.84 L328.66,367.24 L328.75,366.65 L328.84,366.06 L331.09,365.79 L330.63,365.11 L330.17,364.44 L329.71,363.76 L329.29,363.09 L329.38,362.50 L329.47,361.90 L329.56,361.31 L329.65,360.72 L329.73,360.12 L329.82,359.53 L329.91,358.94 L328.56,358.13 L328.94,357.58 L329.33,357.03 L329.72,356.48 L330.11,355.93 L330.45,355.38 L330.54,354.78 L330.63,354.19 L330.72,353.60 L330.81,353.00 L330.90,352.41 L332.58,352.06 L332.14,351.38 L331.69,350.71 L331.25,350.04 L331.34,349.44 L331.43,348.85 L331.52,348.26 L331.61,347.66 L331.70,347.07 L331.78,346.48 L333.25,346.02 L332.84,345.36 L332.42,344.72 L332.00,344.09 L332.04,343.49 L332.09,342.89 L332.14,342.29 L332.19,341.70 L332.24,341.10 L332.29,340.50 L332.34,339.90 L330.47,339.14 L330.96,338.58 L331.46,338.02 L331.95,337.46 L332.45,336.90 L332.66,336.32 L332.73,335.72 L332.81,335.13 L332.88,334.53 L332.96,333.93 L333.03,333.34 L333.10,332.74 L333.18,332.15 L333.25,331.55 L333.32,330.96 L333.40,330.36 L333.47,329.77 L335.66,329.43 L334.95,328.74 L334.24,328.05 L333.77,327.38 L333.84,326.79 L333.92,326.19 L333.99,325.60 L334.06,325.00 L332.20,324.15 L332.63,323.58 L333.06,323.02 L333.50,322.48 L333.94,321.94 L334.38,321.41 L334.69,320.85 L334.79,320.26 L334.89,319.67 L334.98,319.07 L335.08,318.48 L335.17,317.89 L335.27,317.30 L335.37,316.71 L335.46,316.11 L335.56,315.52 L335.65,314.93 L335.75,314.34 L335.85,313.74 L338.42,313.50 L338.05,312.79 L337.66,312.11 L337.26,311.46 L336.86,310.83 L336.46,310.19 L336.29,309.57 L336.34,308.97 L336.40,308.37 L336.45,307.78 L336.51,307.18 L336.56,306.58 L336.61,305.98 L336.67,305.39 L338.47,304.95 L338.20,304.32 L337.93,303.69 L337.66,303.07 L337.39,302.44 L337.13,301.82 L337.08,301.21 L337.18,300.62 L337.27,300.02 L337.37,299.43 L337.46,298.84 L337.56,298.25 L337.66,297.65 L337.75,297.06 L337.85,296.47 L337.94,295.88 L338.04,295.28 L338.14,294.69 L336.47,293.81 L336.86,293.27 L337.25,292.73 L337.65,292.18 L338.04,291.64 L338.43,291.10 L338.80,290.55 L338.87,289.95 L338.93,289.35 L338.99,288.76 L339.05,288.16 L339.12,287.56 L339.18,286.97 L339.24,286.37 L339.30,285.77 L339.37,285.18 L339.43,284.58 L339.49,283.98 L341.50,283.59 L341.25,282.96 L341.01,282.33 L340.77,281.70 L340.53,281.07 L340.28,280.44 L340.04,279.82 L339.98,279.21 L340.04,278.61 L340.10,278.01 L340.16,277.42 L340.22,276.82 L340.28,276.22 L340.34,275.62 L338.98,274.89 L339.58,274.34 L340.18,273.79 L340.61,273.25 L340.77,272.68 L340.99,272.12 L341.24,271.58 L341.54,271.07 L341.91,270.60 L342.33,270.17 L342.75,269.75 L343.19,269.34 L343.64,268.94 L344.09,268.55 L343.56,266.89 L344.67,267.05 L345.49,267.65 L345.99,267.91 L346.51,268.21 L347.03,268.50 L347.56,268.79 L348.09,269.06 L348.62,269.34 L349.16,269.62 L349.67,269.92 L350.15,270.27 L350.60,270.66 L351.03,271.08 L351.47,271.49 L351.82,271.95 L350.68,272.96 L351.16,273.27 L351.67,273.76 L352.19,274.27 L352.56,274.81 L352.68,275.40 L352.80,275.98 L352.92,276.57 L353.08,277.15 L353.26,277.72 L353.47,278.28 L355.24,278.27 L354.95,279.02 L354.66,279.76 L354.37,280.51 L354.49,281.10 L354.70,281.66 L354.90,282.23 L355.11,282.79 L355.31,283.36 L355.52,283.92 L355.72,284.48 L357.50,284.47 L357.33,285.18 L357.15,285.88 L356.97,286.58 L356.79,287.29 L356.94,287.87 L357.13,288.44 L357.30,289.01 L357.48,289.59 L357.65,290.16 L357.82,290.74 L357.99,291.31 L358.17,291.89 L358.34,292.46 L358.52,293.03 L358.72,293.60 L358.92,294.16 L357.75,295.23 L358.69,295.52 L359.54,295.86 L359.74,296.42 L359.95,296.98 L360.15,297.55 L360.35,298.11 L360.50,298.69 L360.61,299.28 L360.70,299.87 L360.78,300.47 L360.87,301.06 L360.95,301.65 L362.82,301.99 L362.40,302.66 L361.97,303.33 L361.54,303.99 L361.37,304.62 L361.46,305.22 L361.54,305.81 L361.63,306.41 L361.71,307.00 L361.80,307.59 L361.88,308.19 L361.97,308.78 L362.05,309.38 L362.14,309.97 L362.22,310.56 L362.31,311.16 L362.39,311.75 L364.74,312.02 L364.44,312.67 L364.14,313.32 L363.85,313.95 L363.57,314.58 L363.31,315.23 L363.10,315.89 L363.23,316.47 L363.37,317.06 L363.50,317.64 L363.64,318.23 L363.77,318.81 L363.91,319.40 L364.04,319.98 L364.18,320.57 L364.31,321.15 L366.65,321.23 L366.40,321.90 L366.16,322.57 L365.91,323.25 L365.66,323.92 L365.41,324.59 L365.26,325.24 L365.39,325.83 L365.53,326.41 L365.66,327.00 L365.78,327.58 L365.90,328.17 L366.00,328.76 L366.10,329.36 L366.20,329.95 L364.19,330.90 L364.88,331.39 L365.57,331.88 L366.25,332.37 L366.70,332.90 L366.80,333.50 L366.90,334.09 L367.00,334.68 L367.11,335.27 L367.21,335.86 L367.31,336.45 L367.41,337.05 L367.51,337.64 L365.48,338.59 L366.27,339.06 L367.05,339.54 L367.84,340.01 L368.01,340.59 L368.11,341.19 L368.21,341.78 L368.31,342.37 L368.41,342.96 L368.52,343.55 L368.62,344.14 L367.01,345.02 L367.80,345.50 L368.59,345.98 L369.02,346.51 L369.13,347.10 L369.24,347.69 L369.35,348.28 L369.46,348.87 L369.57,349.46 L369.69,350.05 L369.80,350.64 L369.91,351.23 L367.92,352.21 L368.46,352.72 L369.01,353.23 L369.55,353.73 L370.10,354.24 L370.57,354.76 L370.68,355.35 L370.79,355.94 L370.90,356.53 L371.01,357.12 L371.13,357.71 L371.24,358.30 L373.49,358.49 L373.23,359.15 L372.96,359.81 L372.69,360.47 L372.43,361.13 L372.16,361.79 L372.01,362.43 L372.10,363.02 L372.19,363.62 L372.26,364.21 L372.33,364.81 L372.41,365.40 L372.48,366.00 L372.55,366.59 L372.62,367.19 L372.70,367.79 L372.77,368.38 L372.84,368.98 L374.84,369.34 L374.52,369.98 L374.20,370.62 L373.88,371.27 L373.55,371.91 L373.28,372.55 L373.35,373.15 L373.42,373.74 L373.49,374.34 L373.57,374.93 L373.64,375.53 L373.71,376.12 L373.79,376.72 L375.78,377.08 L375.41,377.73 L375.04,378.37 L374.68,379.01 L374.34,379.66 L374.31,380.28 L374.44,380.86 L374.56,381.45 L374.69,382.04 L374.82,382.62 L374.94,383.21 L375.07,383.80 L375.19,384.38 L375.32,384.97 L375.45,385.56 L375.57,386.14 L375.70,386.73 L375.83,387.32 L377.68,387.53 L377.38,388.21 L377.09,388.89 L376.80,389.56 L376.50,390.24 L376.58,390.84 L376.71,391.42 L376.84,392.01 L376.96,392.60 L377.09,393.18 L377.23,393.76 L377.38,394.34 L377.55,394.92 L377.72,395.50 L377.88,396.07 L380.12,396.06 L379.92,396.74 L379.73,397.42 L379.54,398.10 L379.34,398.78 L379.15,399.46 L379.04,400.11 L379.20,400.69 L379.37,401.27 L379.53,401.84 L379.70,402.42 L379.87,403.00 L380.03,403.57 L380.20,404.15 L380.36,404.73 L380.53,405.30 L378.62,406.47 L379.47,406.85 L380.33,407.24 L381.18,407.61 L381.38,408.18 L381.59,408.74 L381.82,409.30 L382.04,409.85 L382.26,410.41 L382.48,410.97 L382.70,411.53 L382.93,412.08 L383.15,412.64 L383.37,413.20 L383.59,413.76 L385.64,413.59 L385.41,414.32 L385.19,415.06 L384.96,415.79 L384.74,416.53 L384.92,417.10 L385.14,417.66 L385.39,418.20 L385.68,418.73 L385.99,419.24 L384.81,420.70 L385.42,421.02 L386.04,421.34 L386.65,421.66 L387.26,421.98 L387.88,422.30 L388.24,422.78 L388.56,423.29 L388.89,423.80 L389.21,424.30 L389.53,424.81 L389.85,425.32 L390.17,425.82 L390.38,426.16" fill="none" stroke="#000" stroke-width="1.8" stroke-linejoin="round" />
<path d="M340.98,281.92 L339.48,281.42 L340.83,275.89 L340.33,269.99 L340.68,274.87 L339.56,266.55 L341.42,276.81 L340.97,268.58 L342.02,270.63 L342.11,281.65 L342.01,277.09 L341.93,278.28 L341.70,271.75 L341.90,280.08 L342.22,259.58 L342.24,278.56 L343.04,267.39 L342.81,263.74 L343.19,270.22 L342.98,279.09 L343.45,265.43 L343.30,277.99 L343.59,268.12 L344.16,278.96 L344.07,274.34 L344.52,274.60 L344.49,265.17 L344.66,269.99 L344.81,262.37 L344.93,274.35 L345.22,262.27 L345.35,271.34 L345.72,258.31 L345.62,262.19 L346.03,264.74 L346.04,260.76 L346.30,262.80 L346.29,261.62 L346.84,258.16 L346.74,264.94 L347.20,267.80 L347.04,266.77 L347.29,277.48 L347.59,259.73 L347.74,271.60 L348.05,265.64 L347.90,258.63 L348.24,275.16 L348.46,267.53 L348.63,279.81 L348.82,275.47 L348.94,277.64 L349.36,271.07 L349.21,266.18 L349.44,277.60 L349.68,267.99 L350.14,278.16 L349.87,279.24 L350.03,267.11 L350.45,275.45 L350.62,277.57 L350.76,281.79 L350.98,270.07 L351.36,264.60 L351.54,266.03 L351.79,268.92 L351.58,262.27 L352.05,276.11 L352.32,262.50 L351.54,272.35 L352.41,284.36 L352.41,272.94 L353.90,270.09 L353.16,274.95 L353.87,272.88 L353.21,272.43 L354.22,274.12 L354.56,275.52 L353.08,278.61 L354.25,276.35 L354.49,282.44 L354.45,286.11 L355.34,274.48 L354.57,281.31 L355.73,283.82 L355.77,282.45 L355.66,285.29 L354.80,280.14 L355.27,289.50 L355.50,290.59 L356.99,289.03 L357.01,286.69 L355.28,289.89 L357.52,288.58 L356.99,291.04 L357.89,287.72 L356.71,286.12 L356.53,289.42 L357.48,289.43 L358.55,287.43 L357.77,292.19 L358.07,293.24 L357.11,289.92 L358.02,289.78 L358.82,293.68 L358.62,293.25 L359.01,295.66 L359.71,296.22 L359.95,291.87 L358.59,293.72 L359.17,298.21 L358.97,297.49 L360.41,298.56 L360.34,298.73 L360.16,298.45 L361.37,297.71 L361.82,298.80 L360.82,301.56 L361.48,302.80 L361.82,305.38 L361.92,305.35 L361.16,306.35 L362.94,305.23 L361.19,309.27 L361.84,311.46 L363.36,311.70 L362.17,312.44 L363.37,312.94" fill="none" stroke="#000" stroke-width="1.8" stroke-linejoin="round" />
</g>
<g id="axes">
<line x1="82.6" y1="0" x2="82.6" y2="435.5" stroke="#000" stroke-width="1.6"/>
<line x1="507.6" y1="0" x2="507.6" y2="435.5" stroke="#000" stroke-width="1.6"/>
<polygon points="81.89999999999999,0 508.3,0 508.3,1.3 81.89999999999999,2.0" fill="#707070"/>
<line x1="75.5" y1="214.5" x2="507.6" y2="214.5" stroke="#000" stroke-width="1.9"/>
<line x1="75.5" y1="427.6" x2="507.6" y2="427.8" stroke="#000" stroke-width="1.9"/>
<line x1="83.5" y1="426.6" x2="90.5" y2="426.6" stroke="#000" stroke-width="1.8"/>
<line x1="75.5" y1="35.1" x2="90.2" y2="35.1" stroke="#000" stroke-width="1.4"/>
<line x1="75.5" y1="95.4" x2="90.2" y2="95.4" stroke="#000" stroke-width="1.4"/>
<line x1="75.5" y1="154.6" x2="87.0" y2="154.6" stroke="#000" stroke-width="1.4"/>
<line x1="75.5" y1="246.5" x2="90.2" y2="246.5" stroke="#000" stroke-width="1.4"/>
<line x1="75.5" y1="306.5" x2="90.2" y2="306.5" stroke="#000" stroke-width="1.4"/>
<line x1="75.5" y1="366.1" x2="90.2" y2="366.1" stroke="#000" stroke-width="1.4"/>
<line x1="189.1" y1="208.5" x2="189.1" y2="221.5" stroke="#000" stroke-width="1.5"/>
<line x1="189.1" y1="421.8" x2="189.1" y2="435.3" stroke="#000" stroke-width="1.5"/>
<line x1="294.0" y1="208.5" x2="294.0" y2="221.5" stroke="#000" stroke-width="1.5"/>
<line x1="294.0" y1="421.8" x2="294.0" y2="435.3" stroke="#000" stroke-width="1.5"/>
<line x1="400.2" y1="208.5" x2="400.2" y2="221.5" stroke="#000" stroke-width="1.5"/>
<line x1="400.2" y1="421.8" x2="400.2" y2="435.3" stroke="#000" stroke-width="1.5"/>
</g>
<g id="arrows">
<line x1="294.4" y1="52.8" x2="310.5" y2="78.5" stroke="#000" stroke-width="1.4"/>
<polygon points="306.9,80.6 313.9,76.4 314.7,85.2" fill="#fff" stroke="#000" stroke-width="1.5" stroke-linejoin="miter"/>
<line x1="357.6" y1="32.2" x2="354" y2="43.7" stroke="#000" stroke-width="1.4"/>
<polygon points="349.7,42.3 358.3,45.1 351.2,51.3" fill="#fff" stroke="#000" stroke-width="1.5" stroke-linejoin="miter"/>
<line x1="411.2" y1="135" x2="395.6" y2="151.7" stroke="#000" stroke-width="1.4"/>
<polygon points="392.2,148.8 398.5,154.4 389,157.4" fill="#fff" stroke="#000" stroke-width="1.5" stroke-linejoin="miter"/>
<line x1="286.5" y1="255.4" x2="301" y2="284" stroke="#000" stroke-width="1.4"/>
<polygon points="297.5,286.2 304.6,282.3 304.6,291.5" fill="#fff" stroke="#000" stroke-width="1.5" stroke-linejoin="miter"/>
<line x1="356.2" y1="234.3" x2="351.3" y2="249" stroke="#000" stroke-width="1.4"/>
<polygon points="346.9,248.2 355.7,249.7 347.7,255.1" fill="#fff" stroke="#000" stroke-width="1.5" stroke-linejoin="miter"/>
<line x1="420.8" y1="299" x2="406" y2="317.7" stroke="#000" stroke-width="1.4"/>
<polygon points="402.3,315.6 409.7,319.8 399.6,323" fill="#fff" stroke="#000" stroke-width="1.5" stroke-linejoin="miter"/>
</g>
<g id="text">
<text x="66.7" y="38.8" font-size="12" font-weight="bold" text-anchor="end" >60</text>
<text x="64.80000000000001" y="99.2" font-size="12" font-weight="bold" text-anchor="end" >40</text>
<text x="64.60000000000001" y="158.3" font-size="12" font-weight="bold" text-anchor="end" >20</text>
<text x="63.3" y="217.1" font-size="12" font-weight="bold" text-anchor="end" >0</text>
<text x="69.2" y="249.9" font-size="12" font-weight="bold" text-anchor="end" >60</text>
<text x="67.2" y="309.9" font-size="12" font-weight="bold" text-anchor="end" >40</text>
<text x="66.7" y="368.9" font-size="12" font-weight="bold" text-anchor="end" >20</text>
<text x="65.80000000000001" y="427.8" font-size="12" font-weight="bold" text-anchor="end" >0</text>
<text x="83.8" y="448.8" font-size="12" font-weight="bold" text-anchor="middle" >0.1</text>
<text x="188.2" y="449.0" font-size="12" font-weight="bold" text-anchor="middle" >1</text>
<text x="293.2" y="450.3" font-size="12" font-weight="bold" text-anchor="middle" >10</text>
<text x="399.4" y="449.5" font-size="12" font-weight="bold" text-anchor="middle" >100</text>
<text x="505.8" y="448.9" font-size="12" font-weight="bold" text-anchor="middle" >1000</text>
<text class="b" x="97.0" y="66.9" font-size="14.3" font-weight="bold" text-anchor="start" textLength="61.5" lengthAdjust="spacingAndGlyphs" >Negative</text>
<text class="b" x="101.3" y="82.6" font-size="14.3" font-weight="bold" text-anchor="start" textLength="52.5" lengthAdjust="spacingAndGlyphs" >Control</text>
<text class="b" x="200.8" y="36.8" font-size="14.3" font-weight="bold" text-anchor="start" textLength="50" lengthAdjust="spacingAndGlyphs" >Patient</text>
<text class="b" x="277.0" y="41.2" font-size="14.3" font-weight="bold" text-anchor="start" textLength="49.5" lengthAdjust="spacingAndGlyphs" >Mother</text>
<text class="b" x="345.5" y="25.8" font-size="14.3" font-weight="bold" text-anchor="start" textLength="45" lengthAdjust="spacingAndGlyphs" >Father</text>
<text x="427.5" y="27.0" font-size="16.5" font-weight="normal" text-anchor="start" textLength="48.5" lengthAdjust="spacingAndGlyphs" >GPIIb</text>
<text class="b" x="392.0" y="123.8" font-size="14.3" font-weight="bold" text-anchor="start" textLength="99" lengthAdjust="spacingAndGlyphs" >Sister/Control</text>
<text class="b" x="98.2" y="277.2" font-size="14.3" font-weight="bold" text-anchor="start" textLength="62" lengthAdjust="spacingAndGlyphs" >Negative</text>
<text class="b" x="103.0" y="292.7" font-size="14.3" font-weight="bold" text-anchor="start" textLength="52" lengthAdjust="spacingAndGlyphs" >Control</text>
<text class="b" x="183.1" y="263.4" font-size="14.3" font-weight="bold" text-anchor="start" textLength="49" lengthAdjust="spacingAndGlyphs" >Patient</text>
<text class="b" x="266.0" y="246.7" font-size="14.3" font-weight="bold" text-anchor="start" textLength="49" lengthAdjust="spacingAndGlyphs" >Mother</text>
<text class="b" x="336.2" y="229.7" font-size="14.3" font-weight="bold" text-anchor="start" textLength="44.5" lengthAdjust="spacingAndGlyphs" >Father</text>
<text x="430.7" y="238.4" font-size="16.5" font-weight="normal" text-anchor="start" textLength="54" lengthAdjust="spacingAndGlyphs" >GPIIIa</text>
<text class="b" x="399.6" y="293.9" font-size="14.3" font-weight="bold" text-anchor="start" textLength="99.5" lengthAdjust="spacingAndGlyphs" >Sister/Control</text>
<text class="b" x="213.9" y="480.6" font-size="19.8" font-weight="bold" text-anchor="start" textLength="157.5" lengthAdjust="spacingAndGlyphs" >Fluorescence log</text>
<text class="b" x="0" y="0" font-size="20.5" font-weight="bold" text-anchor="start" textLength="109" lengthAdjust="spacingAndGlyphs" transform="translate(15.6,263.2) rotate(-90)">Cell number</text>
</g>
</svg>
</body></html>
